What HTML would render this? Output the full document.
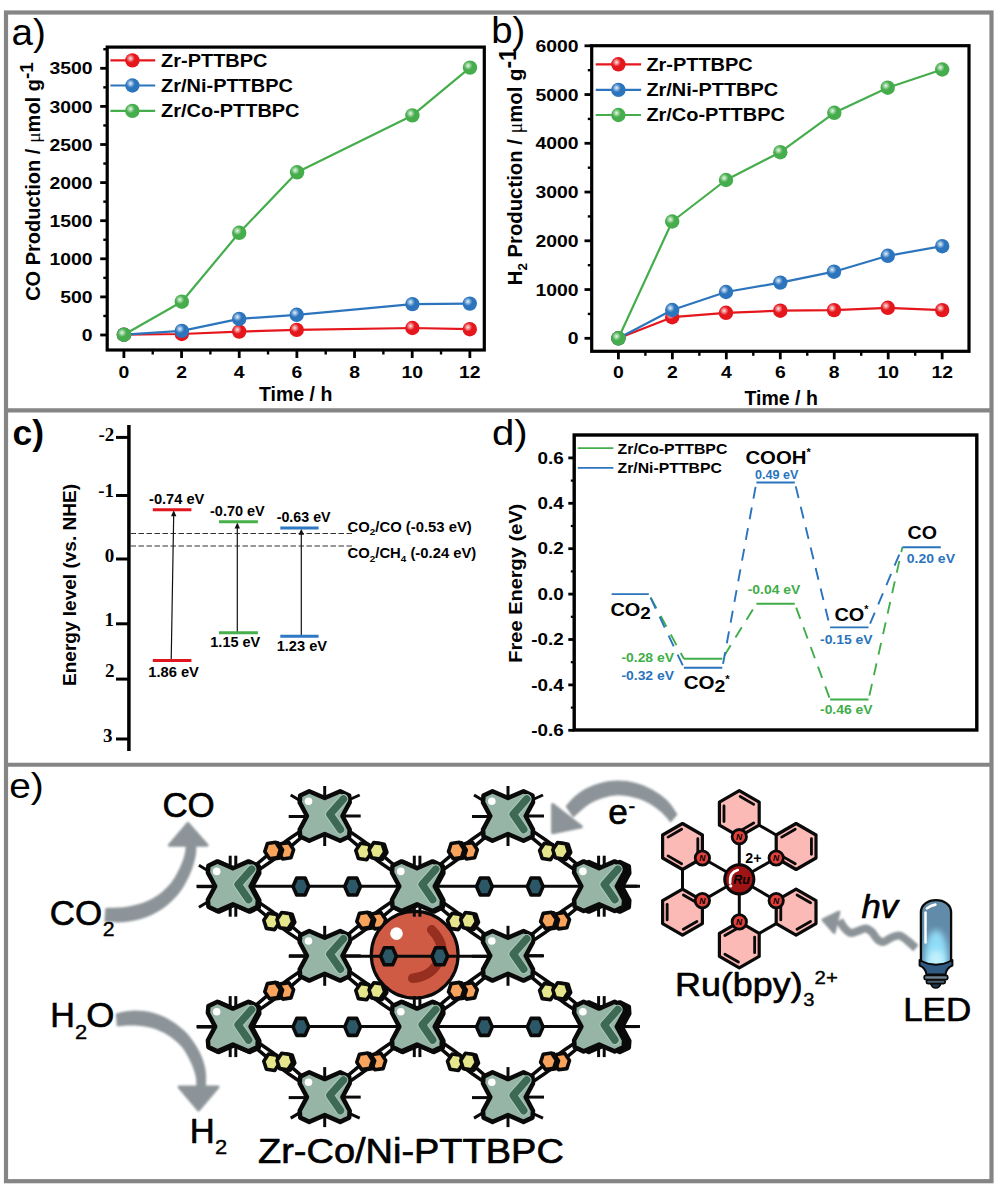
<!DOCTYPE html>
<html><head><meta charset="utf-8"><title>Figure</title>
<style>html,body{margin:0;padding:0;background:#fff}svg{display:block}</style></head>
<body><svg width="1003" height="1196" viewBox="0 0 1003 1196">
<rect width="1003" height="1196" fill="#fff"/>
<defs>
<radialGradient id="gR" cx="0.37" cy="0.36" r="0.30"><stop offset="0" stop-color="#fbe6e6"/><stop offset="0.45" stop-color="#f08a8d"/><stop offset="1" stop-color="#e5161c"/></radialGradient>
<radialGradient id="gB" cx="0.37" cy="0.36" r="0.30"><stop offset="0" stop-color="#e8f1fa"/><stop offset="0.45" stop-color="#8fb8de"/><stop offset="1" stop-color="#2c75bd"/></radialGradient>
<radialGradient id="gG" cx="0.37" cy="0.36" r="0.30"><stop offset="0" stop-color="#ecf7ec"/><stop offset="0.45" stop-color="#9fd5a3"/><stop offset="1" stop-color="#45ad4c"/></radialGradient>
<filter id="glow" x="-50%" y="-50%" width="200%" height="200%"><feGaussianBlur stdDeviation="3.2"/></filter>
<filter id="soft" x="-10%" y="-10%" width="120%" height="120%"><feGaussianBlur stdDeviation="0.9"/></filter>
<linearGradient id="led" x1="0" y1="0" x2="0" y2="1"><stop offset="0" stop-color="#5d86a6"/><stop offset="0.35" stop-color="#5a8fb4"/><stop offset="0.7" stop-color="#8fd6f0"/><stop offset="1" stop-color="#9adff5"/></linearGradient>
</defs>
<rect x="6" y="12.5" width="985.5" height="1168.7" fill="none" stroke="#858585" stroke-width="4.2"/>
<line x1="6.00" y1="410.40" x2="991.50" y2="410.40" stroke="#858585" stroke-width="4.4" />
<line x1="6.00" y1="764.80" x2="991.50" y2="764.80" stroke="#858585" stroke-width="4.0" />
<text transform="translate(11.50 45.20) scale(1.0600 1)" font-family='"Liberation Sans", Arial, Helvetica, sans-serif' font-size="36.5" font-weight="normal" text-anchor="start" fill="#000">a)</text>
<text transform="translate(491.20 43.40) scale(1.0500 1)" font-family='"Liberation Sans", Arial, Helvetica, sans-serif' font-size="36.5" font-weight="normal" text-anchor="start" fill="#000">b)</text>
<text transform="translate(12.60 444.50)" font-family='"Liberation Sans", Arial, Helvetica, sans-serif' font-size="35.5" font-weight="bold" text-anchor="start" fill="#000">c)</text>
<text transform="translate(491.90 444.70) scale(1.1200 1)" font-family='"Liberation Sans", Arial, Helvetica, sans-serif' font-size="35.8" font-weight="normal" text-anchor="start" fill="#000">d)</text>
<text transform="translate(9.20 798.40) scale(1.0850 1)" font-family='"Liberation Sans", Arial, Helvetica, sans-serif' font-size="35.8" font-weight="normal" text-anchor="start" fill="#000">e)</text>
<rect x="107.2" y="47.1" width="377.1" height="302.9" fill="none" stroke="#000" stroke-width="3.2"/>
<line x1="100.20" y1="335.00" x2="107.20" y2="335.00" stroke="#000" stroke-width="2.8" />
<text transform="translate(92.50 341.10) scale(1.1400 1)" font-family='"Liberation Sans", Arial, Helvetica, sans-serif' font-size="17" font-weight="bold" text-anchor="end" fill="#000">0</text>
<line x1="100.20" y1="296.90" x2="107.20" y2="296.90" stroke="#000" stroke-width="2.8" />
<text transform="translate(92.50 303.00) scale(1.1400 1)" font-family='"Liberation Sans", Arial, Helvetica, sans-serif' font-size="17" font-weight="bold" text-anchor="end" fill="#000">500</text>
<line x1="100.20" y1="258.80" x2="107.20" y2="258.80" stroke="#000" stroke-width="2.8" />
<text transform="translate(92.50 264.90) scale(1.1400 1)" font-family='"Liberation Sans", Arial, Helvetica, sans-serif' font-size="17" font-weight="bold" text-anchor="end" fill="#000">1000</text>
<line x1="100.20" y1="220.70" x2="107.20" y2="220.70" stroke="#000" stroke-width="2.8" />
<text transform="translate(92.50 226.80) scale(1.1400 1)" font-family='"Liberation Sans", Arial, Helvetica, sans-serif' font-size="17" font-weight="bold" text-anchor="end" fill="#000">1500</text>
<line x1="100.20" y1="182.60" x2="107.20" y2="182.60" stroke="#000" stroke-width="2.8" />
<text transform="translate(92.50 188.70) scale(1.1400 1)" font-family='"Liberation Sans", Arial, Helvetica, sans-serif' font-size="17" font-weight="bold" text-anchor="end" fill="#000">2000</text>
<line x1="100.20" y1="144.50" x2="107.20" y2="144.50" stroke="#000" stroke-width="2.8" />
<text transform="translate(92.50 150.60) scale(1.1400 1)" font-family='"Liberation Sans", Arial, Helvetica, sans-serif' font-size="17" font-weight="bold" text-anchor="end" fill="#000">2500</text>
<line x1="100.20" y1="106.40" x2="107.20" y2="106.40" stroke="#000" stroke-width="2.8" />
<text transform="translate(92.50 112.50) scale(1.1400 1)" font-family='"Liberation Sans", Arial, Helvetica, sans-serif' font-size="17" font-weight="bold" text-anchor="end" fill="#000">3000</text>
<line x1="100.20" y1="68.30" x2="107.20" y2="68.30" stroke="#000" stroke-width="2.8" />
<text transform="translate(92.50 74.40) scale(1.1400 1)" font-family='"Liberation Sans", Arial, Helvetica, sans-serif' font-size="17" font-weight="bold" text-anchor="end" fill="#000">3500</text>
<line x1="103.30" y1="315.95" x2="107.20" y2="315.95" stroke="#000" stroke-width="2.4" />
<line x1="103.30" y1="277.85" x2="107.20" y2="277.85" stroke="#000" stroke-width="2.4" />
<line x1="103.30" y1="239.75" x2="107.20" y2="239.75" stroke="#000" stroke-width="2.4" />
<line x1="103.30" y1="201.65" x2="107.20" y2="201.65" stroke="#000" stroke-width="2.4" />
<line x1="103.30" y1="163.55" x2="107.20" y2="163.55" stroke="#000" stroke-width="2.4" />
<line x1="103.30" y1="125.45" x2="107.20" y2="125.45" stroke="#000" stroke-width="2.4" />
<line x1="103.30" y1="87.35" x2="107.20" y2="87.35" stroke="#000" stroke-width="2.4" />
<line x1="103.30" y1="49.25" x2="107.20" y2="49.25" stroke="#000" stroke-width="2.4" />
<line x1="123.90" y1="350.00" x2="123.90" y2="358.00" stroke="#000" stroke-width="2.8" />
<text transform="translate(123.90 378.20) scale(1.1400 1)" font-family='"Liberation Sans", Arial, Helvetica, sans-serif' font-size="17" font-weight="bold" text-anchor="middle" fill="#000">0</text>
<line x1="181.56" y1="350.00" x2="181.56" y2="358.00" stroke="#000" stroke-width="2.8" />
<text transform="translate(181.56 378.20) scale(1.1400 1)" font-family='"Liberation Sans", Arial, Helvetica, sans-serif' font-size="17" font-weight="bold" text-anchor="middle" fill="#000">2</text>
<line x1="239.22" y1="350.00" x2="239.22" y2="358.00" stroke="#000" stroke-width="2.8" />
<text transform="translate(239.22 378.20) scale(1.1400 1)" font-family='"Liberation Sans", Arial, Helvetica, sans-serif' font-size="17" font-weight="bold" text-anchor="middle" fill="#000">4</text>
<line x1="296.88" y1="350.00" x2="296.88" y2="358.00" stroke="#000" stroke-width="2.8" />
<text transform="translate(296.88 378.20) scale(1.1400 1)" font-family='"Liberation Sans", Arial, Helvetica, sans-serif' font-size="17" font-weight="bold" text-anchor="middle" fill="#000">6</text>
<line x1="354.54" y1="350.00" x2="354.54" y2="358.00" stroke="#000" stroke-width="2.8" />
<text transform="translate(354.54 378.20) scale(1.1400 1)" font-family='"Liberation Sans", Arial, Helvetica, sans-serif' font-size="17" font-weight="bold" text-anchor="middle" fill="#000">8</text>
<line x1="412.20" y1="350.00" x2="412.20" y2="358.00" stroke="#000" stroke-width="2.8" />
<text transform="translate(412.20 378.20) scale(1.1400 1)" font-family='"Liberation Sans", Arial, Helvetica, sans-serif' font-size="17" font-weight="bold" text-anchor="middle" fill="#000">10</text>
<line x1="469.86" y1="350.00" x2="469.86" y2="358.00" stroke="#000" stroke-width="2.8" />
<text transform="translate(469.86 378.20) scale(1.1400 1)" font-family='"Liberation Sans", Arial, Helvetica, sans-serif' font-size="17" font-weight="bold" text-anchor="middle" fill="#000">12</text>
<line x1="152.73" y1="350.00" x2="152.73" y2="354.50" stroke="#000" stroke-width="2.4" />
<line x1="210.39" y1="350.00" x2="210.39" y2="354.50" stroke="#000" stroke-width="2.4" />
<line x1="268.05" y1="350.00" x2="268.05" y2="354.50" stroke="#000" stroke-width="2.4" />
<line x1="325.71" y1="350.00" x2="325.71" y2="354.50" stroke="#000" stroke-width="2.4" />
<line x1="383.37" y1="350.00" x2="383.37" y2="354.50" stroke="#000" stroke-width="2.4" />
<line x1="441.03" y1="350.00" x2="441.03" y2="354.50" stroke="#000" stroke-width="2.4" />
<text transform="translate(295.70 400.90)" font-family='"Liberation Sans", Arial, Helvetica, sans-serif' font-size="19.5" font-weight="bold" text-anchor="middle" fill="#000">Time / h</text>
<text transform="translate(40.20 181.50) scale(0.9900 1) rotate(-90)" font-family='"Liberation Sans", Arial, Helvetica, sans-serif' font-size="20.0" font-weight="bold" text-anchor="middle" fill="#000">CO Production / <tspan font-family='"Liberation Serif",serif' font-weight="normal">μ</tspan>mol g<tspan dy="-6.8" font-size="19">-1</tspan></text>
<polyline points="123.9,334.7 181.8,334.0 239.2,331.6 296.7,329.9 412.4,328.0 469.8,329.2" fill="none" stroke="#e5161c" stroke-width="2.2" stroke-linejoin="round"/>
<circle cx="123.90" cy="334.70" r="7.2" fill="url(#gR)"/>
<circle cx="181.80" cy="334.00" r="7.2" fill="url(#gR)"/>
<circle cx="239.20" cy="331.60" r="7.2" fill="url(#gR)"/>
<circle cx="296.70" cy="329.90" r="7.2" fill="url(#gR)"/>
<circle cx="412.40" cy="328.00" r="7.2" fill="url(#gR)"/>
<circle cx="469.80" cy="329.20" r="7.2" fill="url(#gR)"/>
<polyline points="123.9,334.7 181.8,330.9 239.2,318.9 296.7,314.8 412.4,304.1 469.8,303.6" fill="none" stroke="#2c75bd" stroke-width="2.2" stroke-linejoin="round"/>
<circle cx="123.90" cy="334.70" r="7.2" fill="url(#gB)"/>
<circle cx="181.80" cy="330.90" r="7.2" fill="url(#gB)"/>
<circle cx="239.20" cy="318.90" r="7.2" fill="url(#gB)"/>
<circle cx="296.70" cy="314.80" r="7.2" fill="url(#gB)"/>
<circle cx="412.40" cy="304.10" r="7.2" fill="url(#gB)"/>
<circle cx="469.80" cy="303.60" r="7.2" fill="url(#gB)"/>
<polyline points="123.9,334.7 181.8,301.7 239.2,232.8 297.1,172.3 412.4,115.4 470.0,67.6" fill="none" stroke="#45ad4c" stroke-width="2.2" stroke-linejoin="round"/>
<circle cx="123.90" cy="334.70" r="7.2" fill="url(#gG)"/>
<circle cx="181.80" cy="301.70" r="7.2" fill="url(#gG)"/>
<circle cx="239.20" cy="232.80" r="7.2" fill="url(#gG)"/>
<circle cx="297.10" cy="172.30" r="7.2" fill="url(#gG)"/>
<circle cx="412.40" cy="115.40" r="7.2" fill="url(#gG)"/>
<circle cx="470.00" cy="67.60" r="7.2" fill="url(#gG)"/>
<line x1="110.40" y1="60.40" x2="155.20" y2="60.40" stroke="#e5161c" stroke-width="2.2" />
<circle cx="132.40" cy="60.40" r="7.2" fill="url(#gR)"/>
<text transform="translate(161.10 66.70) scale(1.1400 1)" font-family='"Liberation Sans", Arial, Helvetica, sans-serif' font-size="17.5" font-weight="bold" text-anchor="start" fill="#000">Zr-PTTBPC</text>
<line x1="110.40" y1="85.50" x2="155.20" y2="85.50" stroke="#2c75bd" stroke-width="2.2" />
<circle cx="132.40" cy="85.50" r="7.2" fill="url(#gB)"/>
<text transform="translate(161.10 91.80) scale(1.1400 1)" font-family='"Liberation Sans", Arial, Helvetica, sans-serif' font-size="17.5" font-weight="bold" text-anchor="start" fill="#000">Zr/Ni-PTTBPC</text>
<line x1="110.40" y1="110.90" x2="155.20" y2="110.90" stroke="#45ad4c" stroke-width="2.2" />
<circle cx="132.40" cy="110.90" r="7.2" fill="url(#gG)"/>
<text transform="translate(161.10 117.20) scale(1.1400 1)" font-family='"Liberation Sans", Arial, Helvetica, sans-serif' font-size="17.5" font-weight="bold" text-anchor="start" fill="#000">Zr/Co-PTTBPC</text>
<rect x="591.7" y="45.7" width="377.29999999999995" height="305.6" fill="none" stroke="#000" stroke-width="3.2"/>
<line x1="584.50" y1="338.30" x2="591.70" y2="338.30" stroke="#000" stroke-width="2.8" />
<text transform="translate(578.50 344.40) scale(1.1400 1)" font-family='"Liberation Sans", Arial, Helvetica, sans-serif' font-size="17" font-weight="bold" text-anchor="end" fill="#000">0</text>
<line x1="584.50" y1="289.55" x2="591.70" y2="289.55" stroke="#000" stroke-width="2.8" />
<text transform="translate(578.50 295.65) scale(1.1400 1)" font-family='"Liberation Sans", Arial, Helvetica, sans-serif' font-size="17" font-weight="bold" text-anchor="end" fill="#000">1000</text>
<line x1="584.50" y1="240.80" x2="591.70" y2="240.80" stroke="#000" stroke-width="2.8" />
<text transform="translate(578.50 246.90) scale(1.1400 1)" font-family='"Liberation Sans", Arial, Helvetica, sans-serif' font-size="17" font-weight="bold" text-anchor="end" fill="#000">2000</text>
<line x1="584.50" y1="192.05" x2="591.70" y2="192.05" stroke="#000" stroke-width="2.8" />
<text transform="translate(578.50 198.15) scale(1.1400 1)" font-family='"Liberation Sans", Arial, Helvetica, sans-serif' font-size="17" font-weight="bold" text-anchor="end" fill="#000">3000</text>
<line x1="584.50" y1="143.30" x2="591.70" y2="143.30" stroke="#000" stroke-width="2.8" />
<text transform="translate(578.50 149.40) scale(1.1400 1)" font-family='"Liberation Sans", Arial, Helvetica, sans-serif' font-size="17" font-weight="bold" text-anchor="end" fill="#000">4000</text>
<line x1="584.50" y1="94.55" x2="591.70" y2="94.55" stroke="#000" stroke-width="2.8" />
<text transform="translate(578.50 100.65) scale(1.1400 1)" font-family='"Liberation Sans", Arial, Helvetica, sans-serif' font-size="17" font-weight="bold" text-anchor="end" fill="#000">5000</text>
<line x1="584.50" y1="45.80" x2="591.70" y2="45.80" stroke="#000" stroke-width="2.8" />
<text transform="translate(578.50 51.90) scale(1.1400 1)" font-family='"Liberation Sans", Arial, Helvetica, sans-serif' font-size="17" font-weight="bold" text-anchor="end" fill="#000">6000</text>
<line x1="587.80" y1="313.93" x2="591.70" y2="313.93" stroke="#000" stroke-width="2.4" />
<line x1="587.80" y1="265.18" x2="591.70" y2="265.18" stroke="#000" stroke-width="2.4" />
<line x1="587.80" y1="216.43" x2="591.70" y2="216.43" stroke="#000" stroke-width="2.4" />
<line x1="587.80" y1="167.68" x2="591.70" y2="167.68" stroke="#000" stroke-width="2.4" />
<line x1="587.80" y1="118.93" x2="591.70" y2="118.93" stroke="#000" stroke-width="2.4" />
<line x1="587.80" y1="70.18" x2="591.70" y2="70.18" stroke="#000" stroke-width="2.4" />
<line x1="618.40" y1="351.30" x2="618.40" y2="359.30" stroke="#000" stroke-width="2.8" />
<text transform="translate(618.40 378.20) scale(1.1400 1)" font-family='"Liberation Sans", Arial, Helvetica, sans-serif' font-size="17" font-weight="bold" text-anchor="middle" fill="#000">0</text>
<line x1="672.36" y1="351.30" x2="672.36" y2="359.30" stroke="#000" stroke-width="2.8" />
<text transform="translate(672.36 378.20) scale(1.1400 1)" font-family='"Liberation Sans", Arial, Helvetica, sans-serif' font-size="17" font-weight="bold" text-anchor="middle" fill="#000">2</text>
<line x1="726.32" y1="351.30" x2="726.32" y2="359.30" stroke="#000" stroke-width="2.8" />
<text transform="translate(726.32 378.20) scale(1.1400 1)" font-family='"Liberation Sans", Arial, Helvetica, sans-serif' font-size="17" font-weight="bold" text-anchor="middle" fill="#000">4</text>
<line x1="780.28" y1="351.30" x2="780.28" y2="359.30" stroke="#000" stroke-width="2.8" />
<text transform="translate(780.28 378.20) scale(1.1400 1)" font-family='"Liberation Sans", Arial, Helvetica, sans-serif' font-size="17" font-weight="bold" text-anchor="middle" fill="#000">6</text>
<line x1="834.24" y1="351.30" x2="834.24" y2="359.30" stroke="#000" stroke-width="2.8" />
<text transform="translate(834.24 378.20) scale(1.1400 1)" font-family='"Liberation Sans", Arial, Helvetica, sans-serif' font-size="17" font-weight="bold" text-anchor="middle" fill="#000">8</text>
<line x1="888.20" y1="351.30" x2="888.20" y2="359.30" stroke="#000" stroke-width="2.8" />
<text transform="translate(888.20 378.20) scale(1.1400 1)" font-family='"Liberation Sans", Arial, Helvetica, sans-serif' font-size="17" font-weight="bold" text-anchor="middle" fill="#000">10</text>
<line x1="942.16" y1="351.30" x2="942.16" y2="359.30" stroke="#000" stroke-width="2.8" />
<text transform="translate(942.16 378.20) scale(1.1400 1)" font-family='"Liberation Sans", Arial, Helvetica, sans-serif' font-size="17" font-weight="bold" text-anchor="middle" fill="#000">12</text>
<line x1="645.38" y1="351.30" x2="645.38" y2="355.80" stroke="#000" stroke-width="2.4" />
<line x1="699.34" y1="351.30" x2="699.34" y2="355.80" stroke="#000" stroke-width="2.4" />
<line x1="753.30" y1="351.30" x2="753.30" y2="355.80" stroke="#000" stroke-width="2.4" />
<line x1="807.26" y1="351.30" x2="807.26" y2="355.80" stroke="#000" stroke-width="2.4" />
<line x1="861.22" y1="351.30" x2="861.22" y2="355.80" stroke="#000" stroke-width="2.4" />
<line x1="915.18" y1="351.30" x2="915.18" y2="355.80" stroke="#000" stroke-width="2.4" />
<text transform="translate(781.20 404.50)" font-family='"Liberation Sans", Arial, Helvetica, sans-serif' font-size="19.5" font-weight="bold" text-anchor="middle" fill="#000">Time / h</text>
<text transform="translate(522.00 166.70) rotate(-90)" font-family='"Liberation Sans", Arial, Helvetica, sans-serif' font-size="20.3" font-weight="bold" text-anchor="middle" fill="#000">H<tspan dy="4.5" font-size="13.5">2</tspan><tspan dy="-4.5"> Production / </tspan><tspan font-family='"Liberation Serif",serif' font-weight="normal">μ</tspan>mol g<tspan dy="-6.1" font-size="23">-1</tspan></text>
<polyline points="618.4,338.3 672.2,317.2 726.0,312.8 780.3,310.7 834.0,310.1 887.8,307.8 942.2,310.1" fill="none" stroke="#e5161c" stroke-width="2.2" stroke-linejoin="round"/>
<circle cx="618.40" cy="338.30" r="7.2" fill="url(#gR)"/>
<circle cx="672.20" cy="317.20" r="7.2" fill="url(#gR)"/>
<circle cx="726.00" cy="312.80" r="7.2" fill="url(#gR)"/>
<circle cx="780.30" cy="310.70" r="7.2" fill="url(#gR)"/>
<circle cx="834.00" cy="310.10" r="7.2" fill="url(#gR)"/>
<circle cx="887.80" cy="307.80" r="7.2" fill="url(#gR)"/>
<circle cx="942.20" cy="310.10" r="7.2" fill="url(#gR)"/>
<polyline points="618.4,338.3 672.2,310.0 726.0,292.0 780.3,282.6 834.0,271.7 887.8,255.8 942.2,246.2" fill="none" stroke="#2c75bd" stroke-width="2.2" stroke-linejoin="round"/>
<circle cx="618.40" cy="338.30" r="7.2" fill="url(#gB)"/>
<circle cx="672.20" cy="310.00" r="7.2" fill="url(#gB)"/>
<circle cx="726.00" cy="292.00" r="7.2" fill="url(#gB)"/>
<circle cx="780.30" cy="282.60" r="7.2" fill="url(#gB)"/>
<circle cx="834.00" cy="271.70" r="7.2" fill="url(#gB)"/>
<circle cx="887.80" cy="255.80" r="7.2" fill="url(#gB)"/>
<circle cx="942.20" cy="246.20" r="7.2" fill="url(#gB)"/>
<polyline points="618.4,338.3 672.2,221.5 726.0,180.0 780.3,152.2 834.3,112.8 887.7,87.7 942.2,69.5" fill="none" stroke="#45ad4c" stroke-width="2.2" stroke-linejoin="round"/>
<circle cx="618.40" cy="338.30" r="7.2" fill="url(#gG)"/>
<circle cx="672.20" cy="221.50" r="7.2" fill="url(#gG)"/>
<circle cx="726.00" cy="180.00" r="7.2" fill="url(#gG)"/>
<circle cx="780.30" cy="152.20" r="7.2" fill="url(#gG)"/>
<circle cx="834.30" cy="112.80" r="7.2" fill="url(#gG)"/>
<circle cx="887.70" cy="87.70" r="7.2" fill="url(#gG)"/>
<circle cx="942.20" cy="69.50" r="7.2" fill="url(#gG)"/>
<line x1="595.70" y1="64.30" x2="641.10" y2="64.30" stroke="#e5161c" stroke-width="2.2" />
<circle cx="618.40" cy="64.30" r="7.2" fill="url(#gR)"/>
<text transform="translate(646.40 70.60) scale(1.1400 1)" font-family='"Liberation Sans", Arial, Helvetica, sans-serif' font-size="17.5" font-weight="bold" text-anchor="start" fill="#000">Zr-PTTBPC</text>
<line x1="595.70" y1="89.90" x2="641.10" y2="89.90" stroke="#2c75bd" stroke-width="2.2" />
<circle cx="618.40" cy="89.90" r="7.2" fill="url(#gB)"/>
<text transform="translate(646.40 96.20) scale(1.1400 1)" font-family='"Liberation Sans", Arial, Helvetica, sans-serif' font-size="17.5" font-weight="bold" text-anchor="start" fill="#000">Zr/Ni-PTTBPC</text>
<line x1="595.70" y1="115.00" x2="641.10" y2="115.00" stroke="#45ad4c" stroke-width="2.2" />
<circle cx="618.40" cy="115.00" r="7.2" fill="url(#gG)"/>
<text transform="translate(646.40 121.30) scale(1.1400 1)" font-family='"Liberation Sans", Arial, Helvetica, sans-serif' font-size="17.5" font-weight="bold" text-anchor="start" fill="#000">Zr/Co-PTTBPC</text>
<line x1="128.90" y1="425.00" x2="128.90" y2="751.00" stroke="#000" stroke-width="3.5" />
<line x1="116.00" y1="437.40" x2="129.00" y2="437.40" stroke="#000" stroke-width="3.0" />
<text transform="translate(114.30 440.50)" font-family='"Liberation Serif", "Times New Roman", serif' font-size="19" font-weight="bold" text-anchor="end" fill="#000">-2</text>
<line x1="116.00" y1="495.50" x2="129.00" y2="495.50" stroke="#000" stroke-width="3.0" />
<text transform="translate(114.00 497.30)" font-family='"Liberation Serif", "Times New Roman", serif' font-size="19" font-weight="bold" text-anchor="end" fill="#000">-1</text>
<line x1="116.00" y1="559.00" x2="129.00" y2="559.00" stroke="#000" stroke-width="3.0" />
<text transform="translate(114.30 561.50)" font-family='"Liberation Serif", "Times New Roman", serif' font-size="19" font-weight="bold" text-anchor="end" fill="#000">0</text>
<line x1="116.00" y1="623.80" x2="129.00" y2="623.80" stroke="#000" stroke-width="3.0" />
<text transform="translate(114.00 626.00)" font-family='"Liberation Serif", "Times New Roman", serif' font-size="19" font-weight="bold" text-anchor="end" fill="#000">1</text>
<line x1="116.00" y1="679.10" x2="129.00" y2="679.10" stroke="#000" stroke-width="3.0" />
<text transform="translate(114.50 677.20)" font-family='"Liberation Serif", "Times New Roman", serif' font-size="19" font-weight="bold" text-anchor="end" fill="#000">2</text>
<line x1="116.00" y1="739.00" x2="129.00" y2="739.00" stroke="#000" stroke-width="3.0" />
<text transform="translate(112.60 741.50)" font-family='"Liberation Serif", "Times New Roman", serif' font-size="19" font-weight="bold" text-anchor="end" fill="#000">3</text>
<text transform="translate(76.00 585.00) rotate(-90)" font-family='"Liberation Sans", Arial, Helvetica, sans-serif' font-size="19" font-weight="bold" text-anchor="middle" fill="#000" textLength="202.00" lengthAdjust="spacingAndGlyphs">Energy level (vs. NHE)</text>
<line x1="130.50" y1="533.50" x2="353.00" y2="533.50" stroke="#333" stroke-width="1.15" stroke-dasharray="5.5 2.5"/>
<line x1="130.50" y1="546.00" x2="353.00" y2="546.00" stroke="#333" stroke-width="1.15" stroke-dasharray="5.5 2.5"/>
<line x1="171.20" y1="660.00" x2="173.70" y2="514.20" stroke="#111" stroke-width="1.2" />
<path d="M173.7,510.2 l-2.7,6 l5.4,0 z" fill="#111"/>
<line x1="237.30" y1="632.00" x2="237.30" y2="526.40" stroke="#111" stroke-width="1.2" />
<path d="M237.3,522.4 l-2.7,6 l5.4,0 z" fill="#111"/>
<line x1="301.30" y1="636.00" x2="301.30" y2="532.80" stroke="#111" stroke-width="1.2" />
<path d="M301.3,528.8 l-2.7,6 l5.4,0 z" fill="#111"/>
<line x1="152.80" y1="509.70" x2="191.40" y2="509.70" stroke="#e0161c" stroke-width="3.0" />
<line x1="152.80" y1="660.50" x2="191.40" y2="660.50" stroke="#e0161c" stroke-width="3.0" />
<line x1="219.00" y1="521.80" x2="257.90" y2="521.80" stroke="#46b04a" stroke-width="3.0" />
<line x1="219.00" y1="632.80" x2="257.90" y2="632.80" stroke="#46b04a" stroke-width="3.0" />
<line x1="280.30" y1="528.00" x2="318.60" y2="528.00" stroke="#2f78c4" stroke-width="3.0" />
<line x1="280.30" y1="636.30" x2="318.60" y2="636.30" stroke="#2f78c4" stroke-width="3.0" />
<text transform="translate(149.00 504.20)" font-family='"Liberation Sans", Arial, Helvetica, sans-serif' font-size="15" font-weight="bold" text-anchor="start" fill="#000" textLength="55.40" lengthAdjust="spacingAndGlyphs">-0.74 eV</text>
<text transform="translate(148.30 677.20)" font-family='"Liberation Sans", Arial, Helvetica, sans-serif' font-size="15" font-weight="bold" text-anchor="start" fill="#000" textLength="50.60" lengthAdjust="spacingAndGlyphs">1.86 eV</text>
<text transform="translate(210.00 515.50)" font-family='"Liberation Sans", Arial, Helvetica, sans-serif' font-size="15" font-weight="bold" text-anchor="start" fill="#000" textLength="54.80" lengthAdjust="spacingAndGlyphs">-0.70 eV</text>
<text transform="translate(210.30 647.10)" font-family='"Liberation Sans", Arial, Helvetica, sans-serif' font-size="15" font-weight="bold" text-anchor="start" fill="#000" textLength="50.00" lengthAdjust="spacingAndGlyphs">1.15 eV</text>
<text transform="translate(276.70 521.70)" font-family='"Liberation Sans", Arial, Helvetica, sans-serif' font-size="15" font-weight="bold" text-anchor="start" fill="#000" textLength="53.90" lengthAdjust="spacingAndGlyphs">-0.63 eV</text>
<text transform="translate(276.70 651.00)" font-family='"Liberation Sans", Arial, Helvetica, sans-serif' font-size="15" font-weight="bold" text-anchor="start" fill="#000" textLength="50.30" lengthAdjust="spacingAndGlyphs">1.23 eV</text>
<text transform="translate(347.60 531.90)" font-family='"Liberation Sans", Arial, Helvetica, sans-serif' font-size="14.3" font-weight="bold" text-anchor="start" fill="#000" textLength="124.20" lengthAdjust="spacingAndGlyphs">CO<tspan dy="3.5" font-size="9.5">2</tspan><tspan dy="-3.5">/CO (-0.53 eV)</tspan></text>
<text transform="translate(347.60 558.20)" font-family='"Liberation Sans", Arial, Helvetica, sans-serif' font-size="14.3" font-weight="bold" text-anchor="start" fill="#000" textLength="128.70" lengthAdjust="spacingAndGlyphs">CO<tspan dy="3.5" font-size="9.5">2</tspan><tspan dy="-3.5">/CH</tspan><tspan dy="3.5" font-size="9.5">4</tspan><tspan dy="-3.5"> (-0.24 eV)</tspan></text>
<rect x="574.2" y="435.0" width="402.5999999999999" height="295.0" fill="none" stroke="#000" stroke-width="3.4"/>
<line x1="568.30" y1="457.90" x2="574.20" y2="457.90" stroke="#000" stroke-width="2.8" />
<text transform="translate(563.70 463.50) scale(1.2100 1)" font-family='"Liberation Sans", Arial, Helvetica, sans-serif' font-size="15.6" font-weight="bold" text-anchor="end" fill="#000">0.6</text>
<line x1="568.30" y1="503.30" x2="574.20" y2="503.30" stroke="#000" stroke-width="2.8" />
<text transform="translate(563.70 508.90) scale(1.2100 1)" font-family='"Liberation Sans", Arial, Helvetica, sans-serif' font-size="15.6" font-weight="bold" text-anchor="end" fill="#000">0.4</text>
<line x1="568.30" y1="548.70" x2="574.20" y2="548.70" stroke="#000" stroke-width="2.8" />
<text transform="translate(563.70 554.30) scale(1.2100 1)" font-family='"Liberation Sans", Arial, Helvetica, sans-serif' font-size="15.6" font-weight="bold" text-anchor="end" fill="#000">0.2</text>
<line x1="568.30" y1="594.10" x2="574.20" y2="594.10" stroke="#000" stroke-width="2.8" />
<text transform="translate(563.70 599.70) scale(1.2100 1)" font-family='"Liberation Sans", Arial, Helvetica, sans-serif' font-size="15.6" font-weight="bold" text-anchor="end" fill="#000">0.0</text>
<line x1="568.30" y1="639.50" x2="574.20" y2="639.50" stroke="#000" stroke-width="2.8" />
<text transform="translate(563.70 645.10) scale(1.2100 1)" font-family='"Liberation Sans", Arial, Helvetica, sans-serif' font-size="15.6" font-weight="bold" text-anchor="end" fill="#000">-0.2</text>
<line x1="568.30" y1="684.90" x2="574.20" y2="684.90" stroke="#000" stroke-width="2.8" />
<text transform="translate(563.70 690.50) scale(1.2100 1)" font-family='"Liberation Sans", Arial, Helvetica, sans-serif' font-size="15.6" font-weight="bold" text-anchor="end" fill="#000">-0.4</text>
<line x1="568.30" y1="730.30" x2="574.20" y2="730.30" stroke="#000" stroke-width="2.8" />
<text transform="translate(563.70 735.90) scale(1.2100 1)" font-family='"Liberation Sans", Arial, Helvetica, sans-serif' font-size="15.6" font-weight="bold" text-anchor="end" fill="#000">-0.6</text>
<line x1="570.80" y1="480.60" x2="574.20" y2="480.60" stroke="#000" stroke-width="2.2" />
<line x1="570.80" y1="526.00" x2="574.20" y2="526.00" stroke="#000" stroke-width="2.2" />
<line x1="570.80" y1="571.40" x2="574.20" y2="571.40" stroke="#000" stroke-width="2.2" />
<line x1="570.80" y1="616.80" x2="574.20" y2="616.80" stroke="#000" stroke-width="2.2" />
<line x1="570.80" y1="662.20" x2="574.20" y2="662.20" stroke="#000" stroke-width="2.2" />
<line x1="570.80" y1="707.60" x2="574.20" y2="707.60" stroke="#000" stroke-width="2.2" />
<text transform="translate(522.20 583.20) scale(0.9500 1) rotate(-90)" font-family='"Liberation Sans", Arial, Helvetica, sans-serif' font-size="20" font-weight="bold" text-anchor="middle" fill="#000">Free Energy (eV)</text>
<line x1="577.80" y1="448.20" x2="613.40" y2="448.20" stroke="#45ad4c" stroke-width="1.8" />
<line x1="577.80" y1="467.80" x2="613.40" y2="467.80" stroke="#2c75bd" stroke-width="1.8" />
<text transform="translate(617.60 453.50)" font-family='"Liberation Sans", Arial, Helvetica, sans-serif' font-size="14.6" font-weight="bold" text-anchor="start" fill="#000" textLength="109.70" lengthAdjust="spacingAndGlyphs">Zr/Co-PTTBPC</text>
<text transform="translate(617.60 473.10)" font-family='"Liberation Sans", Arial, Helvetica, sans-serif' font-size="14.6" font-weight="bold" text-anchor="start" fill="#000" textLength="104.20" lengthAdjust="spacingAndGlyphs">Zr/Ni-PTTBPC</text>
<line x1="648.80" y1="594.10" x2="683.90" y2="658.80" stroke="#3fae49" stroke-width="1.9" stroke-dasharray="12 9" stroke-dashoffset="-4"/>
<line x1="722.30" y1="658.80" x2="756.40" y2="603.80" stroke="#3fae49" stroke-width="1.9" stroke-dasharray="12 9" stroke-dashoffset="-4"/>
<line x1="794.80" y1="603.80" x2="830.10" y2="699.50" stroke="#3fae49" stroke-width="1.9" stroke-dasharray="12 9" stroke-dashoffset="-4"/>
<line x1="868.50" y1="699.50" x2="902.40" y2="547.20" stroke="#3fae49" stroke-width="1.9" stroke-dasharray="12 9" stroke-dashoffset="-4"/>
<line x1="648.80" y1="594.10" x2="683.90" y2="667.80" stroke="#2a74bd" stroke-width="1.9" stroke-dasharray="12 9" stroke-dashoffset="-4"/>
<line x1="722.30" y1="667.80" x2="756.40" y2="482.50" stroke="#2a74bd" stroke-width="1.9" stroke-dasharray="12 9" stroke-dashoffset="-4"/>
<line x1="794.80" y1="482.50" x2="830.10" y2="627.40" stroke="#2a74bd" stroke-width="1.9" stroke-dasharray="12 9" stroke-dashoffset="-4"/>
<line x1="868.50" y1="627.40" x2="902.40" y2="547.20" stroke="#2a74bd" stroke-width="1.9" stroke-dasharray="12 9" stroke-dashoffset="-4"/>
<line x1="683.90" y1="658.80" x2="722.30" y2="658.80" stroke="#3fae49" stroke-width="1.9" />
<line x1="756.40" y1="603.80" x2="794.80" y2="603.80" stroke="#3fae49" stroke-width="1.9" />
<line x1="830.10" y1="699.50" x2="868.50" y2="699.50" stroke="#3fae49" stroke-width="1.9" />
<line x1="611.60" y1="594.10" x2="648.80" y2="594.10" stroke="#2a74bd" stroke-width="1.9" />
<line x1="683.90" y1="667.80" x2="722.30" y2="667.80" stroke="#2a74bd" stroke-width="1.9" />
<line x1="756.40" y1="482.50" x2="794.80" y2="482.50" stroke="#2a74bd" stroke-width="1.9" />
<line x1="830.10" y1="627.40" x2="868.50" y2="627.40" stroke="#2a74bd" stroke-width="1.9" />
<line x1="902.40" y1="547.20" x2="940.80" y2="547.20" stroke="#2a74bd" stroke-width="1.9" />
<text transform="translate(610.40 615.60)" font-family='"Liberation Sans", Arial, Helvetica, sans-serif' font-size="18" font-weight="bold" text-anchor="start" fill="#000" textLength="40.40" lengthAdjust="spacingAndGlyphs">CO<tspan dy="3" font-size="17">2</tspan></text>
<text transform="translate(683.70 689.10)" font-family='"Liberation Sans", Arial, Helvetica, sans-serif' font-size="18" font-weight="bold" text-anchor="start" fill="#000" textLength="46.10" lengthAdjust="spacingAndGlyphs">CO<tspan dy="3" font-size="17">2</tspan><tspan dy="-9" font-size="10">*</tspan></text>
<text transform="translate(745.40 464.10)" font-family='"Liberation Sans", Arial, Helvetica, sans-serif' font-size="18.5" font-weight="bold" text-anchor="start" fill="#000" textLength="65.30" lengthAdjust="spacingAndGlyphs">COOH<tspan dy="-8" font-size="10">*</tspan></text>
<text transform="translate(834.40 621.30)" font-family='"Liberation Sans", Arial, Helvetica, sans-serif' font-size="18.5" font-weight="bold" text-anchor="start" fill="#000" textLength="34.10" lengthAdjust="spacingAndGlyphs">CO<tspan dy="-8" font-size="10">*</tspan></text>
<text transform="translate(907.60 539.30)" font-family='"Liberation Sans", Arial, Helvetica, sans-serif' font-size="19" font-weight="bold" text-anchor="start" fill="#000" textLength="29.40" lengthAdjust="spacingAndGlyphs">CO</text>
<text transform="translate(754.90 479.20)" font-family='"Liberation Sans", Arial, Helvetica, sans-serif' font-size="12.2" font-weight="bold" text-anchor="start" fill="#2a74bd" textLength="43.40" lengthAdjust="spacingAndGlyphs">0.49 eV</text>
<text transform="translate(747.70 593.70)" font-family='"Liberation Sans", Arial, Helvetica, sans-serif' font-size="13" font-weight="bold" text-anchor="start" fill="#3fae49" textLength="52.60" lengthAdjust="spacingAndGlyphs">-0.04 eV</text>
<text transform="translate(906.70 563.00)" font-family='"Liberation Sans", Arial, Helvetica, sans-serif' font-size="13" font-weight="bold" text-anchor="start" fill="#2a74bd" textLength="48.30" lengthAdjust="spacingAndGlyphs">0.20 eV</text>
<text transform="translate(820.00 643.80)" font-family='"Liberation Sans", Arial, Helvetica, sans-serif' font-size="13" font-weight="bold" text-anchor="start" fill="#2a74bd" textLength="52.60" lengthAdjust="spacingAndGlyphs">-0.15 eV</text>
<text transform="translate(820.00 713.80)" font-family='"Liberation Sans", Arial, Helvetica, sans-serif' font-size="13" font-weight="bold" text-anchor="start" fill="#3fae49" textLength="52.60" lengthAdjust="spacingAndGlyphs">-0.46 eV</text>
<text transform="translate(621.40 661.50)" font-family='"Liberation Sans", Arial, Helvetica, sans-serif' font-size="13" font-weight="bold" text-anchor="start" fill="#3fae49" textLength="52.60" lengthAdjust="spacingAndGlyphs">-0.28 eV</text>
<text transform="translate(621.40 680.40)" font-family='"Liberation Sans", Arial, Helvetica, sans-serif' font-size="13" font-weight="bold" text-anchor="start" fill="#2a74bd" textLength="52.60" lengthAdjust="spacingAndGlyphs">-0.32 eV</text>
<g filter="url(#soft)">
<path d="M104.4,922.1 C107.9,922.1 118.2,922.9 125.2,922.1 C132.2,921.3 139.5,919.8 146.1,917.3 C152.7,914.8 159.3,911.1 165.0,906.9 C170.7,902.6 175.9,897.5 180.2,891.8 C184.5,886.1 188.0,878.8 190.6,872.8 C193.2,866.8 194.8,860.3 195.7,855.8 C196.6,851.2 196.2,847.2 196.3,845.5 L185.9,845.5 C185.6,847.2 185.4,851.9 184.3,855.8 C183.2,859.7 181.5,864.4 179.2,869.0 C176.9,873.6 174.3,878.8 170.7,883.2 C167.1,887.6 162.1,892.3 157.4,895.6 C152.7,898.9 147.7,901.2 142.3,903.1 C136.9,905.0 131.3,906.1 125.2,906.9 C119.0,907.7 108.7,907.7 105.4,907.9 Z" fill="#8c9499"/>
<path d="M169.4,845.3 L207.1,845.3 L187.9,823.4 Z" fill="#8c9499" stroke="#8c9499" stroke-width="3" stroke-linejoin="round"/>
<path d="M115.8,1013.5 C118.8,1013.0 127.4,1010.6 133.7,1010.5 C140.0,1010.4 147.4,1011.2 153.7,1012.9 C160.0,1014.6 165.9,1017.4 171.6,1020.9 C177.2,1024.4 182.9,1028.8 187.6,1033.9 C192.2,1039.1 196.5,1045.8 199.5,1051.8 C202.5,1057.8 204.4,1064.0 205.5,1069.8 C206.6,1075.6 205.8,1083.7 205.9,1086.5 L196.5,1086.5 C196.3,1084.7 196.5,1079.8 195.5,1075.7 C194.5,1071.6 192.8,1066.6 190.5,1061.8 C188.2,1057.0 185.4,1051.3 181.6,1046.8 C177.8,1042.3 172.6,1038.1 167.6,1034.9 C162.6,1031.8 157.3,1029.5 151.7,1027.9 C146.0,1026.3 139.5,1025.8 133.7,1025.5 C127.9,1025.2 119.6,1026.2 116.8,1026.3 Z" fill="#8c9499"/>
<path d="M179.1,1087.0 L218.0,1087.0 L198.5,1110.0 Z" fill="#8c9499" stroke="#8c9499" stroke-width="3" stroke-linejoin="round"/>
<path d="M677.5,814.4 C675.8,812.1 671.5,804.6 667.3,800.5 C663.0,796.4 657.4,792.5 652.0,789.5 C646.6,786.5 640.8,784.2 635.1,782.7 C629.5,781.2 623.8,780.5 618.1,780.5 C612.5,780.5 606.6,781.4 601.2,782.7 C595.8,784.1 590.4,786.2 585.9,788.6 C581.4,791.0 577.5,794.1 574.1,797.1 C570.7,800.1 567.0,804.9 565.6,806.4 L573.2,817.5 C574.5,816.4 577.8,813.1 580.8,810.7 C583.8,808.3 587.3,805.2 591.0,803.1 C594.7,801.0 598.7,799.3 602.9,798.0 C607.1,796.7 611.6,795.5 616.4,795.4 C621.2,795.2 626.6,796.0 631.7,797.1 C636.8,798.2 642.1,799.8 646.9,802.2 C651.7,804.6 656.5,808.1 660.5,811.5 C664.5,814.9 669.0,820.7 670.7,822.5 Z" fill="#8c9499"/>
<path d="M552.6,804.5 L552.6,832.8 L581.4,826.7 Z" fill="#8c9499" stroke="#8c9499" stroke-width="3" stroke-linejoin="round"/>
<path d="M915.9,948.2 C914.5,947.0 910.5,943.1 907.8,941.0 C905.1,938.9 902.4,936.2 899.7,935.6 C897.0,935.0 894.4,936.4 891.7,937.4 C889.0,938.4 886.0,941.6 883.6,941.9 C881.2,942.2 879.2,940.9 877.3,939.2 C875.3,937.6 873.8,933.8 871.9,932.0 C870.0,930.2 868.0,928.6 865.6,928.5 C863.2,928.4 860.1,930.4 857.6,931.1 C855.1,931.8 852.6,933.5 850.4,932.9 C848.1,932.3 845.9,929.7 844.1,927.6 C842.3,925.5 840.4,921.6 839.6,920.4" fill="none" stroke="#8c9499" stroke-width="8" stroke-linecap="butt" stroke-linejoin="round"/>
<path d="M823.0,919.8 L839.0,912.0 L834.2,932.4 Z" fill="#8c9499" stroke="#8c9499" stroke-width="3" stroke-linejoin="round"/>
</g>
<line x1="196.50" y1="886.20" x2="640.00" y2="886.20" stroke="#0a0a0a" stroke-width="3.0" />
<line x1="196.50" y1="1026.60" x2="640.00" y2="1026.60" stroke="#0a0a0a" stroke-width="3.0" />
<path d="M324.7,816.0 Q283.4,857.1 232.9,886.2" fill="none" stroke="#0a0a0a" stroke-width="3.5"/>
<path d="M324.7,816.0 Q274.2,845.1 232.9,886.2" fill="none" stroke="#0a0a0a" stroke-width="3.5"/>
<path d="M324.7,816.0 Q375.4,845.1 417.0,886.2" fill="none" stroke="#0a0a0a" stroke-width="3.5"/>
<path d="M324.7,816.0 Q366.3,857.1 417.0,886.2" fill="none" stroke="#0a0a0a" stroke-width="3.5"/>
<path d="M508.0,816.0 Q467.1,857.0 417.0,886.2" fill="none" stroke="#0a0a0a" stroke-width="3.5"/>
<path d="M508.0,816.0 Q457.9,845.2 417.0,886.2" fill="none" stroke="#0a0a0a" stroke-width="3.5"/>
<path d="M508.0,816.0 Q559.2,845.1 601.3,886.2" fill="none" stroke="#0a0a0a" stroke-width="3.5"/>
<path d="M508.0,816.0 Q550.1,857.1 601.3,886.2" fill="none" stroke="#0a0a0a" stroke-width="3.5"/>
<path d="M232.9,886.2 Q283.3,915.0 324.7,955.8" fill="none" stroke="#0a0a0a" stroke-width="3.5"/>
<path d="M232.9,886.2 Q274.3,927.0 324.7,955.8" fill="none" stroke="#0a0a0a" stroke-width="3.5"/>
<path d="M417.0,886.2 Q375.4,927.0 324.7,955.8" fill="none" stroke="#0a0a0a" stroke-width="3.5"/>
<path d="M417.0,886.2 Q366.3,915.0 324.7,955.8" fill="none" stroke="#0a0a0a" stroke-width="3.5"/>
<path d="M417.0,886.2 Q467.1,915.0 508.0,955.8" fill="none" stroke="#0a0a0a" stroke-width="3.5"/>
<path d="M417.0,886.2 Q457.9,927.0 508.0,955.8" fill="none" stroke="#0a0a0a" stroke-width="3.5"/>
<path d="M601.3,886.2 Q559.1,927.0 508.0,955.8" fill="none" stroke="#0a0a0a" stroke-width="3.5"/>
<path d="M601.3,886.2 Q550.2,915.0 508.0,955.8" fill="none" stroke="#0a0a0a" stroke-width="3.5"/>
<path d="M324.7,955.8 Q283.4,997.1 232.9,1026.6" fill="none" stroke="#0a0a0a" stroke-width="3.5"/>
<path d="M324.7,955.8 Q274.2,985.3 232.9,1026.6" fill="none" stroke="#0a0a0a" stroke-width="3.5"/>
<path d="M324.7,955.8 Q375.4,985.2 417.0,1026.6" fill="none" stroke="#0a0a0a" stroke-width="3.5"/>
<path d="M324.7,955.8 Q366.3,997.2 417.0,1026.6" fill="none" stroke="#0a0a0a" stroke-width="3.5"/>
<path d="M508.0,955.8 Q467.1,997.1 417.0,1026.6" fill="none" stroke="#0a0a0a" stroke-width="3.5"/>
<path d="M508.0,955.8 Q457.9,985.3 417.0,1026.6" fill="none" stroke="#0a0a0a" stroke-width="3.5"/>
<path d="M508.0,955.8 Q559.2,985.2 601.3,1026.6" fill="none" stroke="#0a0a0a" stroke-width="3.5"/>
<path d="M508.0,955.8 Q550.1,997.2 601.3,1026.6" fill="none" stroke="#0a0a0a" stroke-width="3.5"/>
<path d="M232.9,1026.6 Q283.4,1055.9 324.7,1097.1" fill="none" stroke="#0a0a0a" stroke-width="3.5"/>
<path d="M232.9,1026.6 Q274.2,1067.8 324.7,1097.1" fill="none" stroke="#0a0a0a" stroke-width="3.5"/>
<path d="M417.0,1026.6 Q375.4,1067.8 324.7,1097.1" fill="none" stroke="#0a0a0a" stroke-width="3.5"/>
<path d="M417.0,1026.6 Q366.3,1055.9 324.7,1097.1" fill="none" stroke="#0a0a0a" stroke-width="3.5"/>
<path d="M417.0,1026.6 Q467.1,1055.9 508.0,1097.1" fill="none" stroke="#0a0a0a" stroke-width="3.5"/>
<path d="M417.0,1026.6 Q457.9,1067.8 508.0,1097.1" fill="none" stroke="#0a0a0a" stroke-width="3.5"/>
<path d="M601.3,1026.6 Q559.2,1067.8 508.0,1097.1" fill="none" stroke="#0a0a0a" stroke-width="3.5"/>
<path d="M601.3,1026.6 Q550.1,1055.9 508.0,1097.1" fill="none" stroke="#0a0a0a" stroke-width="3.5"/>
<path d="M278.0,851.9 L280.6,843.8 L288.9,842.6 L293.6,849.7 L291.0,857.8 L282.7,859.0 Z" fill="#f9a45c" stroke="#0a0a0a" stroke-width="3.6" stroke-linejoin="round"/>
<path d="M267.0,852.1 L269.6,844.0 L277.9,842.8 L282.6,849.9 L280.0,858.0 L271.7,859.2 Z" fill="#0a0a0a" stroke="#0a0a0a" stroke-width="3.6" stroke-linejoin="round"/>
<path d="M264.8,851.6 L267.4,843.5 L275.7,842.3 L280.4,849.4 L277.8,857.5 L269.5,858.7 Z" fill="#f9a45c" stroke="#0a0a0a" stroke-width="3.6" stroke-linejoin="round"/>
<path d="M355.8,850.4 L360.6,843.3 L368.9,844.5 L371.5,852.6 L366.7,859.7 L358.4,858.5 Z" fill="#e6e68c" stroke="#0a0a0a" stroke-width="3.6" stroke-linejoin="round"/>
<path d="M371.2,850.2 L376.0,843.1 L384.3,844.3 L386.9,852.4 L382.1,859.5 L373.8,858.3 Z" fill="#0a0a0a" stroke="#0a0a0a" stroke-width="3.6" stroke-linejoin="round"/>
<path d="M369.0,849.7 L373.8,842.6 L382.1,843.8 L384.7,851.9 L379.9,859.0 L371.6,857.8 Z" fill="#e6e68c" stroke="#0a0a0a" stroke-width="3.6" stroke-linejoin="round"/>
<path d="M461.7,851.9 L464.3,843.8 L472.6,842.6 L477.3,849.7 L474.7,857.8 L466.4,859.0 Z" fill="#f9a45c" stroke="#0a0a0a" stroke-width="3.6" stroke-linejoin="round"/>
<path d="M450.7,852.1 L453.3,844.0 L461.6,842.8 L466.3,849.9 L463.7,858.0 L455.4,859.2 Z" fill="#0a0a0a" stroke="#0a0a0a" stroke-width="3.6" stroke-linejoin="round"/>
<path d="M448.5,851.6 L451.1,843.5 L459.4,842.3 L464.1,849.4 L461.5,857.5 L453.2,858.7 Z" fill="#f9a45c" stroke="#0a0a0a" stroke-width="3.6" stroke-linejoin="round"/>
<path d="M539.6,850.4 L544.4,843.3 L552.7,844.5 L555.3,852.6 L550.5,859.7 L542.2,858.5 Z" fill="#e6e68c" stroke="#0a0a0a" stroke-width="3.6" stroke-linejoin="round"/>
<path d="M555.0,850.2 L559.8,843.1 L568.1,844.3 L570.7,852.4 L565.9,859.5 L557.6,858.3 Z" fill="#0a0a0a" stroke="#0a0a0a" stroke-width="3.6" stroke-linejoin="round"/>
<path d="M552.8,849.7 L557.6,842.6 L565.9,843.8 L568.5,851.9 L563.7,859.0 L555.4,857.8 Z" fill="#e6e68c" stroke="#0a0a0a" stroke-width="3.6" stroke-linejoin="round"/>
<path d="M263.8,920.3 L268.5,913.2 L276.8,914.4 L279.4,922.5 L274.7,929.6 L266.4,928.4 Z" fill="#e6e68c" stroke="#0a0a0a" stroke-width="3.6" stroke-linejoin="round"/>
<path d="M279.2,920.1 L283.9,913.0 L292.2,914.2 L294.8,922.3 L290.1,929.4 L281.8,928.2 Z" fill="#0a0a0a" stroke="#0a0a0a" stroke-width="3.6" stroke-linejoin="round"/>
<path d="M277.0,919.6 L281.7,912.5 L290.0,913.7 L292.6,921.8 L287.9,928.9 L279.6,927.7 Z" fill="#e6e68c" stroke="#0a0a0a" stroke-width="3.6" stroke-linejoin="round"/>
<path d="M370.0,921.8 L372.6,913.7 L380.9,912.5 L385.7,919.6 L383.1,927.7 L374.8,928.9 Z" fill="#f9a45c" stroke="#0a0a0a" stroke-width="3.6" stroke-linejoin="round"/>
<path d="M359.0,922.0 L361.6,913.9 L369.9,912.7 L374.7,919.8 L372.1,927.9 L363.8,929.1 Z" fill="#0a0a0a" stroke="#0a0a0a" stroke-width="3.6" stroke-linejoin="round"/>
<path d="M356.8,921.5 L359.4,913.4 L367.7,912.2 L372.5,919.3 L369.9,927.4 L361.6,928.6 Z" fill="#f9a45c" stroke="#0a0a0a" stroke-width="3.6" stroke-linejoin="round"/>
<path d="M447.5,920.3 L452.2,913.2 L460.5,914.4 L463.1,922.5 L458.4,929.6 L450.1,928.4 Z" fill="#e6e68c" stroke="#0a0a0a" stroke-width="3.6" stroke-linejoin="round"/>
<path d="M462.9,920.1 L467.6,913.0 L475.9,914.2 L478.5,922.3 L473.8,929.4 L465.5,928.2 Z" fill="#0a0a0a" stroke="#0a0a0a" stroke-width="3.6" stroke-linejoin="round"/>
<path d="M460.7,919.6 L465.4,912.5 L473.7,913.7 L476.3,921.8 L471.6,928.9 L463.3,927.7 Z" fill="#e6e68c" stroke="#0a0a0a" stroke-width="3.6" stroke-linejoin="round"/>
<path d="M553.8,921.8 L556.4,913.7 L564.7,912.5 L569.5,919.6 L566.9,927.7 L558.6,928.9 Z" fill="#f9a45c" stroke="#0a0a0a" stroke-width="3.6" stroke-linejoin="round"/>
<path d="M542.8,922.0 L545.4,913.9 L553.7,912.7 L558.5,919.8 L555.9,927.9 L547.6,929.1 Z" fill="#0a0a0a" stroke="#0a0a0a" stroke-width="3.6" stroke-linejoin="round"/>
<path d="M540.6,921.5 L543.2,913.4 L551.5,912.2 L556.3,919.3 L553.7,927.4 L545.4,928.6 Z" fill="#f9a45c" stroke="#0a0a0a" stroke-width="3.6" stroke-linejoin="round"/>
<path d="M278.0,992.0 L280.6,983.9 L288.9,982.7 L293.6,989.8 L291.0,997.9 L282.7,999.1 Z" fill="#f9a45c" stroke="#0a0a0a" stroke-width="3.6" stroke-linejoin="round"/>
<path d="M267.0,992.2 L269.6,984.1 L277.9,982.9 L282.6,990.0 L280.0,998.1 L271.7,999.3 Z" fill="#0a0a0a" stroke="#0a0a0a" stroke-width="3.6" stroke-linejoin="round"/>
<path d="M264.8,991.7 L267.4,983.6 L275.7,982.4 L280.4,989.5 L277.8,997.6 L269.5,998.8 Z" fill="#f9a45c" stroke="#0a0a0a" stroke-width="3.6" stroke-linejoin="round"/>
<path d="M355.8,990.5 L360.6,983.4 L368.9,984.6 L371.5,992.7 L366.7,999.8 L358.4,998.6 Z" fill="#e6e68c" stroke="#0a0a0a" stroke-width="3.6" stroke-linejoin="round"/>
<path d="M371.2,990.3 L376.0,983.2 L384.3,984.4 L386.9,992.5 L382.1,999.6 L373.8,998.4 Z" fill="#0a0a0a" stroke="#0a0a0a" stroke-width="3.6" stroke-linejoin="round"/>
<path d="M369.0,989.8 L373.8,982.7 L382.1,983.9 L384.7,992.0 L379.9,999.1 L371.6,997.9 Z" fill="#e6e68c" stroke="#0a0a0a" stroke-width="3.6" stroke-linejoin="round"/>
<path d="M461.7,992.0 L464.3,983.9 L472.6,982.7 L477.3,989.8 L474.7,997.9 L466.4,999.1 Z" fill="#f9a45c" stroke="#0a0a0a" stroke-width="3.6" stroke-linejoin="round"/>
<path d="M450.7,992.2 L453.3,984.1 L461.6,982.9 L466.3,990.0 L463.7,998.1 L455.4,999.3 Z" fill="#0a0a0a" stroke="#0a0a0a" stroke-width="3.6" stroke-linejoin="round"/>
<path d="M448.5,991.7 L451.1,983.6 L459.4,982.4 L464.1,989.5 L461.5,997.6 L453.2,998.8 Z" fill="#f9a45c" stroke="#0a0a0a" stroke-width="3.6" stroke-linejoin="round"/>
<path d="M539.6,990.5 L544.4,983.4 L552.7,984.6 L555.3,992.7 L550.5,999.8 L542.2,998.6 Z" fill="#e6e68c" stroke="#0a0a0a" stroke-width="3.6" stroke-linejoin="round"/>
<path d="M555.0,990.3 L559.8,983.2 L568.1,984.4 L570.7,992.5 L565.9,999.6 L557.6,998.4 Z" fill="#0a0a0a" stroke="#0a0a0a" stroke-width="3.6" stroke-linejoin="round"/>
<path d="M552.8,989.8 L557.6,982.7 L565.9,983.9 L568.5,992.0 L563.7,999.1 L555.4,997.9 Z" fill="#e6e68c" stroke="#0a0a0a" stroke-width="3.6" stroke-linejoin="round"/>
<path d="M263.8,1061.2 L268.5,1054.0 L276.8,1055.2 L279.4,1063.3 L274.7,1070.5 L266.4,1069.3 Z" fill="#e6e68c" stroke="#0a0a0a" stroke-width="3.6" stroke-linejoin="round"/>
<path d="M279.2,1061.0 L283.9,1053.8 L292.2,1055.0 L294.8,1063.1 L290.1,1070.3 L281.8,1069.1 Z" fill="#0a0a0a" stroke="#0a0a0a" stroke-width="3.6" stroke-linejoin="round"/>
<path d="M277.0,1060.5 L281.7,1053.3 L290.0,1054.5 L292.6,1062.6 L287.9,1069.8 L279.6,1068.6 Z" fill="#e6e68c" stroke="#0a0a0a" stroke-width="3.6" stroke-linejoin="round"/>
<path d="M370.0,1062.6 L372.6,1054.5 L380.9,1053.3 L385.7,1060.5 L383.1,1068.6 L374.8,1069.8 Z" fill="#f9a45c" stroke="#0a0a0a" stroke-width="3.6" stroke-linejoin="round"/>
<path d="M359.0,1062.8 L361.6,1054.7 L369.9,1053.5 L374.7,1060.7 L372.1,1068.8 L363.8,1070.0 Z" fill="#0a0a0a" stroke="#0a0a0a" stroke-width="3.6" stroke-linejoin="round"/>
<path d="M356.8,1062.3 L359.4,1054.2 L367.7,1053.0 L372.5,1060.2 L369.9,1068.3 L361.6,1069.5 Z" fill="#f9a45c" stroke="#0a0a0a" stroke-width="3.6" stroke-linejoin="round"/>
<path d="M447.5,1061.2 L452.2,1054.0 L460.5,1055.2 L463.1,1063.3 L458.4,1070.5 L450.1,1069.3 Z" fill="#e6e68c" stroke="#0a0a0a" stroke-width="3.6" stroke-linejoin="round"/>
<path d="M462.9,1061.0 L467.6,1053.8 L475.9,1055.0 L478.5,1063.1 L473.8,1070.3 L465.5,1069.1 Z" fill="#0a0a0a" stroke="#0a0a0a" stroke-width="3.6" stroke-linejoin="round"/>
<path d="M460.7,1060.5 L465.4,1053.3 L473.7,1054.5 L476.3,1062.6 L471.6,1069.8 L463.3,1068.6 Z" fill="#e6e68c" stroke="#0a0a0a" stroke-width="3.6" stroke-linejoin="round"/>
<path d="M553.8,1062.6 L556.4,1054.5 L564.7,1053.3 L569.5,1060.5 L566.9,1068.6 L558.6,1069.8 Z" fill="#f9a45c" stroke="#0a0a0a" stroke-width="3.6" stroke-linejoin="round"/>
<path d="M542.8,1062.8 L545.4,1054.7 L553.7,1053.5 L558.5,1060.7 L555.9,1068.8 L547.6,1070.0 Z" fill="#0a0a0a" stroke="#0a0a0a" stroke-width="3.6" stroke-linejoin="round"/>
<path d="M540.6,1062.3 L543.2,1054.2 L551.5,1053.0 L556.3,1060.2 L553.7,1068.3 L545.4,1069.5 Z" fill="#f9a45c" stroke="#0a0a0a" stroke-width="3.6" stroke-linejoin="round"/>
<circle cx="414.7" cy="954.8" r="43.4" fill="#cf5b44" stroke="#0a0a0a" stroke-width="3.2"/>
<path d="M431.7,929.8 Q448.7,946.8 436.7,964.8 Q428.7,976.8 412.7,978.3" fill="none" stroke="#962f20" stroke-width="9.5" stroke-linecap="round"/>
<circle cx="396.5" cy="933.6" r="6.3" fill="#fff"/>
<line x1="324.70" y1="956.20" x2="508.00" y2="956.20" stroke="#0a0a0a" stroke-width="3.0" />
<line x1="289.00" y1="955.80" x2="324.70" y2="955.80" stroke="#0a0a0a" stroke-width="3.0" />
<line x1="508.00" y1="955.80" x2="543.00" y2="955.80" stroke="#0a0a0a" stroke-width="3.0" />
<path d="M293.0,886.5 L296.7,878.0 L305.1,878.0 L308.8,886.5 L305.1,895.0 L296.7,895.0 Z" fill="#2c5766" stroke="#0a0a0a" stroke-width="3.6" stroke-linejoin="round"/>
<path d="M344.7,886.5 L348.4,878.0 L356.8,878.0 L360.5,886.5 L356.8,895.0 L348.4,895.0 Z" fill="#2c5766" stroke="#0a0a0a" stroke-width="3.6" stroke-linejoin="round"/>
<path d="M476.5,886.5 L480.2,878.0 L488.6,878.0 L492.3,886.5 L488.6,895.0 L480.2,895.0 Z" fill="#2c5766" stroke="#0a0a0a" stroke-width="3.6" stroke-linejoin="round"/>
<path d="M527.3,886.5 L531.0,878.0 L539.4,878.0 L543.1,886.5 L539.4,895.0 L531.0,895.0 Z" fill="#2c5766" stroke="#0a0a0a" stroke-width="3.6" stroke-linejoin="round"/>
<path d="M293.0,1026.9 L296.7,1018.4 L305.1,1018.4 L308.8,1026.9 L305.1,1035.4 L296.7,1035.4 Z" fill="#2c5766" stroke="#0a0a0a" stroke-width="3.6" stroke-linejoin="round"/>
<path d="M344.7,1026.9 L348.4,1018.4 L356.8,1018.4 L360.5,1026.9 L356.8,1035.4 L348.4,1035.4 Z" fill="#2c5766" stroke="#0a0a0a" stroke-width="3.6" stroke-linejoin="round"/>
<path d="M476.5,1026.9 L480.2,1018.4 L488.6,1018.4 L492.3,1026.9 L488.6,1035.4 L480.2,1035.4 Z" fill="#2c5766" stroke="#0a0a0a" stroke-width="3.6" stroke-linejoin="round"/>
<path d="M527.3,1026.9 L531.0,1018.4 L539.4,1018.4 L543.1,1026.9 L539.4,1035.4 L531.0,1035.4 Z" fill="#2c5766" stroke="#0a0a0a" stroke-width="3.6" stroke-linejoin="round"/>
<path d="M380.6,956.3 L384.3,947.8 L392.7,947.8 L396.4,956.3 L392.7,964.8 L384.3,964.8 Z" fill="#2c5766" stroke="#0a0a0a" stroke-width="3.6" stroke-linejoin="round"/>
<path d="M431.9,956.3 L435.6,947.8 L444.0,947.8 L447.7,956.3 L444.0,964.8 L435.6,964.8 Z" fill="#2c5766" stroke="#0a0a0a" stroke-width="3.6" stroke-linejoin="round"/>
<line x1="324.70" y1="786.00" x2="324.70" y2="799.00" stroke="#0a0a0a" stroke-width="3.0" />
<line x1="324.70" y1="833.00" x2="324.70" y2="846.00" stroke="#0a0a0a" stroke-width="3.0" />
<line x1="288.70" y1="816.50" x2="307.70" y2="816.50" stroke="#0a0a0a" stroke-width="3.0" />
<line x1="341.70" y1="816.00" x2="360.70" y2="816.00" stroke="#0a0a0a" stroke-width="3.0" />
<line x1="290.70" y1="795.00" x2="300.70" y2="801.00" stroke="#0a0a0a" stroke-width="3.0" />
<line x1="349.70" y1="799.50" x2="359.70" y2="795.00" stroke="#0a0a0a" stroke-width="3.0" />
<polygon points="300.2,795.5 309.2,791.2 324.7,798.0 340.2,791.2 349.2,795.5 349.7,802.4 342.4,816.0 349.7,829.6 349.2,836.5 340.2,840.8 324.7,834.0 309.2,840.8 300.2,836.5 299.7,829.6 307.0,816.0 299.7,802.4" fill="#96b5a6" stroke="#0a0a0a" stroke-width="4.5" stroke-linejoin="round"/>
<polyline points="343.4,799.0 329.9,814.2 340.4,829.4" fill="none" stroke="#a9c8b8" stroke-width="9.8" stroke-linecap="round" stroke-linejoin="round"/>
<polyline points="343.4,799.0 329.9,814.2 340.4,829.4" fill="none" stroke="#3e6a55" stroke-width="7.6" stroke-linecap="round" stroke-linejoin="round"/>
<circle cx="308.5" cy="801.2" r="3.8" fill="#fff"/>
<line x1="508.00" y1="786.00" x2="508.00" y2="799.00" stroke="#0a0a0a" stroke-width="3.0" />
<line x1="508.00" y1="833.00" x2="508.00" y2="846.00" stroke="#0a0a0a" stroke-width="3.0" />
<line x1="472.00" y1="816.50" x2="491.00" y2="816.50" stroke="#0a0a0a" stroke-width="3.0" />
<line x1="525.00" y1="816.00" x2="544.00" y2="816.00" stroke="#0a0a0a" stroke-width="3.0" />
<line x1="474.00" y1="795.00" x2="484.00" y2="801.00" stroke="#0a0a0a" stroke-width="3.0" />
<line x1="533.00" y1="799.50" x2="543.00" y2="795.00" stroke="#0a0a0a" stroke-width="3.0" />
<polygon points="483.5,795.5 492.5,791.2 508.0,798.0 523.5,791.2 532.5,795.5 533.0,802.4 525.7,816.0 533.0,829.6 532.5,836.5 523.5,840.8 508.0,834.0 492.5,840.8 483.5,836.5 483.0,829.6 490.3,816.0 483.0,802.4" fill="#96b5a6" stroke="#0a0a0a" stroke-width="4.5" stroke-linejoin="round"/>
<polyline points="526.7,799.0 513.2,814.2 523.7,829.4" fill="none" stroke="#a9c8b8" stroke-width="9.8" stroke-linecap="round" stroke-linejoin="round"/>
<polyline points="526.7,799.0 513.2,814.2 523.7,829.4" fill="none" stroke="#3e6a55" stroke-width="7.6" stroke-linecap="round" stroke-linejoin="round"/>
<circle cx="491.8" cy="801.2" r="3.8" fill="#fff"/>
<line x1="230.20" y1="855.70" x2="230.20" y2="866.20" stroke="#0a0a0a" stroke-width="3.0" />
<line x1="235.80" y1="855.70" x2="235.80" y2="866.20" stroke="#0a0a0a" stroke-width="3.0" />
<line x1="230.20" y1="906.20" x2="230.20" y2="916.70" stroke="#0a0a0a" stroke-width="3.0" />
<line x1="235.80" y1="906.20" x2="235.80" y2="916.70" stroke="#0a0a0a" stroke-width="3.0" />
<line x1="196.90" y1="886.70" x2="215.90" y2="886.70" stroke="#0a0a0a" stroke-width="3.0" />
<line x1="198.90" y1="865.20" x2="208.90" y2="871.20" stroke="#0a0a0a" stroke-width="3.0" />
<line x1="198.90" y1="907.20" x2="208.90" y2="901.20" stroke="#0a0a0a" stroke-width="3.0" />
<polygon points="209.8,866.3 218.8,862.0 234.3,868.8 249.8,862.0 258.8,866.3 259.3,873.2 252.0,886.8 259.3,900.4 258.8,907.3 249.8,911.6 234.3,904.8 218.8,911.6 209.8,907.3 209.3,900.4 216.6,886.8 209.3,873.2" fill="#0a0a0a" stroke="#0a0a0a" stroke-width="4.5" stroke-linejoin="round"/>
<polygon points="208.4,865.7 217.4,861.4 232.9,868.2 248.4,861.4 257.4,865.7 257.9,872.6 250.6,886.2 257.9,899.8 257.4,906.7 248.4,911.0 232.9,904.2 217.4,911.0 208.4,906.7 207.9,899.8 215.2,886.2 207.9,872.6" fill="#96b5a6" stroke="#0a0a0a" stroke-width="4.5" stroke-linejoin="round"/>
<polyline points="251.6,869.2 238.1,884.4 248.6,899.6" fill="none" stroke="#a9c8b8" stroke-width="9.8" stroke-linecap="round" stroke-linejoin="round"/>
<polyline points="251.6,869.2 238.1,884.4 248.6,899.6" fill="none" stroke="#3e6a55" stroke-width="7.6" stroke-linecap="round" stroke-linejoin="round"/>
<circle cx="216.7" cy="871.4" r="3.8" fill="#fff"/>
<line x1="414.30" y1="855.70" x2="414.30" y2="866.20" stroke="#0a0a0a" stroke-width="3.0" />
<line x1="419.90" y1="855.70" x2="419.90" y2="866.20" stroke="#0a0a0a" stroke-width="3.0" />
<line x1="414.30" y1="906.20" x2="414.30" y2="916.70" stroke="#0a0a0a" stroke-width="3.0" />
<line x1="419.90" y1="906.20" x2="419.90" y2="916.70" stroke="#0a0a0a" stroke-width="3.0" />
<polygon points="393.9,866.3 402.9,862.0 418.4,868.8 433.9,862.0 442.9,866.3 443.4,873.2 436.1,886.8 443.4,900.4 442.9,907.3 433.9,911.6 418.4,904.8 402.9,911.6 393.9,907.3 393.4,900.4 400.7,886.8 393.4,873.2" fill="#0a0a0a" stroke="#0a0a0a" stroke-width="4.5" stroke-linejoin="round"/>
<polygon points="392.5,865.7 401.5,861.4 417.0,868.2 432.5,861.4 441.5,865.7 442.0,872.6 434.7,886.2 442.0,899.8 441.5,906.7 432.5,911.0 417.0,904.2 401.5,911.0 392.5,906.7 392.0,899.8 399.3,886.2 392.0,872.6" fill="#96b5a6" stroke="#0a0a0a" stroke-width="4.5" stroke-linejoin="round"/>
<polyline points="435.7,869.2 422.2,884.4 432.7,899.6" fill="none" stroke="#a9c8b8" stroke-width="9.8" stroke-linecap="round" stroke-linejoin="round"/>
<polyline points="435.7,869.2 422.2,884.4 432.7,899.6" fill="none" stroke="#3e6a55" stroke-width="7.6" stroke-linecap="round" stroke-linejoin="round"/>
<circle cx="400.8" cy="871.4" r="3.8" fill="#fff"/>
<line x1="598.60" y1="855.70" x2="598.60" y2="866.20" stroke="#0a0a0a" stroke-width="3.0" />
<line x1="604.20" y1="855.70" x2="604.20" y2="866.20" stroke="#0a0a0a" stroke-width="3.0" />
<line x1="598.60" y1="906.20" x2="598.60" y2="916.70" stroke="#0a0a0a" stroke-width="3.0" />
<line x1="604.20" y1="906.20" x2="604.20" y2="916.70" stroke="#0a0a0a" stroke-width="3.0" />
<line x1="618.30" y1="886.20" x2="637.30" y2="886.20" stroke="#0a0a0a" stroke-width="3.0" />
<polygon points="579.8,866.3 588.8,862.0 604.3,868.8 619.8,862.0 628.8,866.3 629.3,873.2 622.0,886.8 629.3,900.4 628.8,907.3 619.8,911.6 604.3,904.8 588.8,911.6 579.8,907.3 579.3,900.4 586.6,886.8 579.3,873.2" fill="#0a0a0a" stroke="#0a0a0a" stroke-width="4.5" stroke-linejoin="round"/>
<polygon points="574.6,865.7 583.6,861.4 599.1,868.2 614.6,861.4 623.6,865.7 624.1,872.6 616.8,886.2 624.1,899.8 623.6,906.7 614.6,911.0 599.1,904.2 583.6,911.0 574.6,906.7 574.1,899.8 581.4,886.2 574.1,872.6" fill="#96b5a6" stroke="#0a0a0a" stroke-width="4.5" stroke-linejoin="round"/>
<polyline points="617.8,869.2 604.3,884.4 614.8,899.6" fill="none" stroke="#a9c8b8" stroke-width="9.8" stroke-linecap="round" stroke-linejoin="round"/>
<polyline points="617.8,869.2 604.3,884.4 614.8,899.6" fill="none" stroke="#3e6a55" stroke-width="7.6" stroke-linecap="round" stroke-linejoin="round"/>
<circle cx="582.9" cy="871.4" r="3.8" fill="#fff"/>
<line x1="324.70" y1="925.80" x2="324.70" y2="938.80" stroke="#0a0a0a" stroke-width="3.0" />
<line x1="324.70" y1="972.80" x2="324.70" y2="985.80" stroke="#0a0a0a" stroke-width="3.0" />
<line x1="288.70" y1="956.30" x2="307.70" y2="956.30" stroke="#0a0a0a" stroke-width="3.0" />
<line x1="341.70" y1="955.80" x2="360.70" y2="955.80" stroke="#0a0a0a" stroke-width="3.0" />
<polygon points="300.2,935.3 309.2,931.0 324.7,937.8 340.2,931.0 349.2,935.3 349.7,942.2 342.4,955.8 349.7,969.4 349.2,976.3 340.2,980.6 324.7,973.8 309.2,980.6 300.2,976.3 299.7,969.4 307.0,955.8 299.7,942.2" fill="#96b5a6" stroke="#0a0a0a" stroke-width="4.5" stroke-linejoin="round"/>
<polyline points="343.4,938.8 329.9,954.0 340.4,969.2" fill="none" stroke="#a9c8b8" stroke-width="9.8" stroke-linecap="round" stroke-linejoin="round"/>
<polyline points="343.4,938.8 329.9,954.0 340.4,969.2" fill="none" stroke="#3e6a55" stroke-width="7.6" stroke-linecap="round" stroke-linejoin="round"/>
<circle cx="308.5" cy="941.0" r="3.8" fill="#fff"/>
<line x1="508.00" y1="925.80" x2="508.00" y2="938.80" stroke="#0a0a0a" stroke-width="3.0" />
<line x1="508.00" y1="972.80" x2="508.00" y2="985.80" stroke="#0a0a0a" stroke-width="3.0" />
<line x1="472.00" y1="956.30" x2="491.00" y2="956.30" stroke="#0a0a0a" stroke-width="3.0" />
<line x1="525.00" y1="955.80" x2="544.00" y2="955.80" stroke="#0a0a0a" stroke-width="3.0" />
<polygon points="483.5,935.3 492.5,931.0 508.0,937.8 523.5,931.0 532.5,935.3 533.0,942.2 525.7,955.8 533.0,969.4 532.5,976.3 523.5,980.6 508.0,973.8 492.5,980.6 483.5,976.3 483.0,969.4 490.3,955.8 483.0,942.2" fill="#96b5a6" stroke="#0a0a0a" stroke-width="4.5" stroke-linejoin="round"/>
<polyline points="526.7,938.8 513.2,954.0 523.7,969.2" fill="none" stroke="#a9c8b8" stroke-width="9.8" stroke-linecap="round" stroke-linejoin="round"/>
<polyline points="526.7,938.8 513.2,954.0 523.7,969.2" fill="none" stroke="#3e6a55" stroke-width="7.6" stroke-linecap="round" stroke-linejoin="round"/>
<circle cx="491.8" cy="941.0" r="3.8" fill="#fff"/>
<line x1="230.20" y1="996.10" x2="230.20" y2="1006.60" stroke="#0a0a0a" stroke-width="3.0" />
<line x1="235.80" y1="996.10" x2="235.80" y2="1006.60" stroke="#0a0a0a" stroke-width="3.0" />
<line x1="230.20" y1="1046.60" x2="230.20" y2="1057.10" stroke="#0a0a0a" stroke-width="3.0" />
<line x1="235.80" y1="1046.60" x2="235.80" y2="1057.10" stroke="#0a0a0a" stroke-width="3.0" />
<line x1="196.90" y1="1027.10" x2="215.90" y2="1027.10" stroke="#0a0a0a" stroke-width="3.0" />
<polygon points="209.8,1006.7 218.8,1002.4 234.3,1009.2 249.8,1002.4 258.8,1006.7 259.3,1013.6 252.0,1027.2 259.3,1040.8 258.8,1047.7 249.8,1052.0 234.3,1045.2 218.8,1052.0 209.8,1047.7 209.3,1040.8 216.6,1027.2 209.3,1013.6" fill="#0a0a0a" stroke="#0a0a0a" stroke-width="4.5" stroke-linejoin="round"/>
<polygon points="208.4,1006.1 217.4,1001.8 232.9,1008.6 248.4,1001.8 257.4,1006.1 257.9,1013.0 250.6,1026.6 257.9,1040.2 257.4,1047.1 248.4,1051.4 232.9,1044.6 217.4,1051.4 208.4,1047.1 207.9,1040.2 215.2,1026.6 207.9,1013.0" fill="#96b5a6" stroke="#0a0a0a" stroke-width="4.5" stroke-linejoin="round"/>
<polyline points="251.6,1009.6 238.1,1024.8 248.6,1040.0" fill="none" stroke="#a9c8b8" stroke-width="9.8" stroke-linecap="round" stroke-linejoin="round"/>
<polyline points="251.6,1009.6 238.1,1024.8 248.6,1040.0" fill="none" stroke="#3e6a55" stroke-width="7.6" stroke-linecap="round" stroke-linejoin="round"/>
<circle cx="216.7" cy="1011.8" r="3.8" fill="#fff"/>
<line x1="414.30" y1="996.10" x2="414.30" y2="1006.60" stroke="#0a0a0a" stroke-width="3.0" />
<line x1="419.90" y1="996.10" x2="419.90" y2="1006.60" stroke="#0a0a0a" stroke-width="3.0" />
<line x1="414.30" y1="1046.60" x2="414.30" y2="1057.10" stroke="#0a0a0a" stroke-width="3.0" />
<line x1="419.90" y1="1046.60" x2="419.90" y2="1057.10" stroke="#0a0a0a" stroke-width="3.0" />
<polygon points="393.9,1006.7 402.9,1002.4 418.4,1009.2 433.9,1002.4 442.9,1006.7 443.4,1013.6 436.1,1027.2 443.4,1040.8 442.9,1047.7 433.9,1052.0 418.4,1045.2 402.9,1052.0 393.9,1047.7 393.4,1040.8 400.7,1027.2 393.4,1013.6" fill="#0a0a0a" stroke="#0a0a0a" stroke-width="4.5" stroke-linejoin="round"/>
<polygon points="392.5,1006.1 401.5,1001.8 417.0,1008.6 432.5,1001.8 441.5,1006.1 442.0,1013.0 434.7,1026.6 442.0,1040.2 441.5,1047.1 432.5,1051.4 417.0,1044.6 401.5,1051.4 392.5,1047.1 392.0,1040.2 399.3,1026.6 392.0,1013.0" fill="#96b5a6" stroke="#0a0a0a" stroke-width="4.5" stroke-linejoin="round"/>
<polyline points="435.7,1009.6 422.2,1024.8 432.7,1040.0" fill="none" stroke="#a9c8b8" stroke-width="9.8" stroke-linecap="round" stroke-linejoin="round"/>
<polyline points="435.7,1009.6 422.2,1024.8 432.7,1040.0" fill="none" stroke="#3e6a55" stroke-width="7.6" stroke-linecap="round" stroke-linejoin="round"/>
<circle cx="400.8" cy="1011.8" r="3.8" fill="#fff"/>
<line x1="598.60" y1="996.10" x2="598.60" y2="1006.60" stroke="#0a0a0a" stroke-width="3.0" />
<line x1="604.20" y1="996.10" x2="604.20" y2="1006.60" stroke="#0a0a0a" stroke-width="3.0" />
<line x1="598.60" y1="1046.60" x2="598.60" y2="1057.10" stroke="#0a0a0a" stroke-width="3.0" />
<line x1="604.20" y1="1046.60" x2="604.20" y2="1057.10" stroke="#0a0a0a" stroke-width="3.0" />
<line x1="618.30" y1="1026.60" x2="637.30" y2="1026.60" stroke="#0a0a0a" stroke-width="3.0" />
<polygon points="579.8,1006.7 588.8,1002.4 604.3,1009.2 619.8,1002.4 628.8,1006.7 629.3,1013.6 622.0,1027.2 629.3,1040.8 628.8,1047.7 619.8,1052.0 604.3,1045.2 588.8,1052.0 579.8,1047.7 579.3,1040.8 586.6,1027.2 579.3,1013.6" fill="#0a0a0a" stroke="#0a0a0a" stroke-width="4.5" stroke-linejoin="round"/>
<polygon points="574.6,1006.1 583.6,1001.8 599.1,1008.6 614.6,1001.8 623.6,1006.1 624.1,1013.0 616.8,1026.6 624.1,1040.2 623.6,1047.1 614.6,1051.4 599.1,1044.6 583.6,1051.4 574.6,1047.1 574.1,1040.2 581.4,1026.6 574.1,1013.0" fill="#96b5a6" stroke="#0a0a0a" stroke-width="4.5" stroke-linejoin="round"/>
<polyline points="617.8,1009.6 604.3,1024.8 614.8,1040.0" fill="none" stroke="#a9c8b8" stroke-width="9.8" stroke-linecap="round" stroke-linejoin="round"/>
<polyline points="617.8,1009.6 604.3,1024.8 614.8,1040.0" fill="none" stroke="#3e6a55" stroke-width="7.6" stroke-linecap="round" stroke-linejoin="round"/>
<circle cx="582.9" cy="1011.8" r="3.8" fill="#fff"/>
<line x1="324.70" y1="1067.10" x2="324.70" y2="1080.10" stroke="#0a0a0a" stroke-width="3.0" />
<line x1="324.70" y1="1114.10" x2="324.70" y2="1127.10" stroke="#0a0a0a" stroke-width="3.0" />
<line x1="288.70" y1="1097.60" x2="307.70" y2="1097.60" stroke="#0a0a0a" stroke-width="3.0" />
<line x1="341.70" y1="1097.10" x2="360.70" y2="1097.10" stroke="#0a0a0a" stroke-width="3.0" />
<line x1="290.70" y1="1118.10" x2="300.70" y2="1112.10" stroke="#0a0a0a" stroke-width="3.0" />
<line x1="349.70" y1="1113.60" x2="359.70" y2="1118.10" stroke="#0a0a0a" stroke-width="3.0" />
<polygon points="300.2,1076.6 309.2,1072.3 324.7,1079.1 340.2,1072.3 349.2,1076.6 349.7,1083.5 342.4,1097.1 349.7,1110.7 349.2,1117.6 340.2,1121.9 324.7,1115.1 309.2,1121.9 300.2,1117.6 299.7,1110.7 307.0,1097.1 299.7,1083.5" fill="#96b5a6" stroke="#0a0a0a" stroke-width="4.5" stroke-linejoin="round"/>
<polyline points="343.4,1080.1 329.9,1095.3 340.4,1110.5" fill="none" stroke="#a9c8b8" stroke-width="9.8" stroke-linecap="round" stroke-linejoin="round"/>
<polyline points="343.4,1080.1 329.9,1095.3 340.4,1110.5" fill="none" stroke="#3e6a55" stroke-width="7.6" stroke-linecap="round" stroke-linejoin="round"/>
<circle cx="308.5" cy="1082.3" r="3.8" fill="#fff"/>
<line x1="508.00" y1="1067.10" x2="508.00" y2="1080.10" stroke="#0a0a0a" stroke-width="3.0" />
<line x1="508.00" y1="1114.10" x2="508.00" y2="1127.10" stroke="#0a0a0a" stroke-width="3.0" />
<line x1="472.00" y1="1097.60" x2="491.00" y2="1097.60" stroke="#0a0a0a" stroke-width="3.0" />
<line x1="525.00" y1="1097.10" x2="544.00" y2="1097.10" stroke="#0a0a0a" stroke-width="3.0" />
<line x1="474.00" y1="1118.10" x2="484.00" y2="1112.10" stroke="#0a0a0a" stroke-width="3.0" />
<line x1="533.00" y1="1113.60" x2="543.00" y2="1118.10" stroke="#0a0a0a" stroke-width="3.0" />
<polygon points="483.5,1076.6 492.5,1072.3 508.0,1079.1 523.5,1072.3 532.5,1076.6 533.0,1083.5 525.7,1097.1 533.0,1110.7 532.5,1117.6 523.5,1121.9 508.0,1115.1 492.5,1121.9 483.5,1117.6 483.0,1110.7 490.3,1097.1 483.0,1083.5" fill="#96b5a6" stroke="#0a0a0a" stroke-width="4.5" stroke-linejoin="round"/>
<polyline points="526.7,1080.1 513.2,1095.3 523.7,1110.5" fill="none" stroke="#a9c8b8" stroke-width="9.8" stroke-linecap="round" stroke-linejoin="round"/>
<polyline points="526.7,1080.1 513.2,1095.3 523.7,1110.5" fill="none" stroke="#3e6a55" stroke-width="7.6" stroke-linecap="round" stroke-linejoin="round"/>
<circle cx="491.8" cy="1082.3" r="3.8" fill="#fff"/>
<line x1="759.22" y1="825.20" x2="776.19" y2="835.00" stroke="#0a0a0a" stroke-width="3.0" />
<line x1="776.19" y1="923.60" x2="759.22" y2="933.40" stroke="#0a0a0a" stroke-width="3.0" />
<line x1="682.49" y1="889.10" x2="682.49" y2="869.50" stroke="#0a0a0a" stroke-width="3.0" />
<polygon points="739.3,790.7 759.2,802.2 759.2,825.2 739.3,836.7 719.4,825.2 719.4,802.2" fill="#fbbab6" stroke="#0a0a0a" stroke-width="3.2" stroke-linejoin="round"/>
<line x1="740.19" y1="796.52" x2="753.73" y2="804.34" stroke="#0a0a0a" stroke-width="2.8" stroke-linecap="round"/>
<line x1="753.73" y1="823.06" x2="740.19" y2="830.88" stroke="#0a0a0a" stroke-width="2.8" stroke-linecap="round"/>
<line x1="723.98" y1="821.52" x2="723.98" y2="805.88" stroke="#0a0a0a" stroke-width="2.8" stroke-linecap="round"/>
<polygon points="796.1,823.5 816.0,835.0 816.0,858.0 796.1,869.5 776.2,858.0 776.2,835.0" fill="#fbbab6" stroke="#0a0a0a" stroke-width="3.2" stroke-linejoin="round"/>
<line x1="781.68" y1="837.14" x2="795.22" y2="829.32" stroke="#0a0a0a" stroke-width="2.8" stroke-linecap="round"/>
<line x1="811.43" y1="838.68" x2="811.43" y2="854.32" stroke="#0a0a0a" stroke-width="2.8" stroke-linecap="round"/>
<line x1="795.22" y1="863.68" x2="781.68" y2="855.86" stroke="#0a0a0a" stroke-width="2.8" stroke-linecap="round"/>
<polygon points="796.1,889.1 816.0,900.6 816.0,923.6 796.1,935.1 776.2,923.6 776.2,900.6" fill="#fbbab6" stroke="#0a0a0a" stroke-width="3.2" stroke-linejoin="round"/>
<line x1="797.00" y1="894.92" x2="810.54" y2="902.74" stroke="#0a0a0a" stroke-width="2.8" stroke-linecap="round"/>
<line x1="810.54" y1="921.46" x2="797.00" y2="929.28" stroke="#0a0a0a" stroke-width="2.8" stroke-linecap="round"/>
<line x1="780.79" y1="919.92" x2="780.79" y2="904.28" stroke="#0a0a0a" stroke-width="2.8" stroke-linecap="round"/>
<polygon points="739.3,921.9 759.2,933.4 759.2,956.4 739.3,967.9 719.4,956.4 719.4,933.4" fill="#fbbab6" stroke="#0a0a0a" stroke-width="3.2" stroke-linejoin="round"/>
<line x1="724.87" y1="935.54" x2="738.41" y2="927.72" stroke="#0a0a0a" stroke-width="2.8" stroke-linecap="round"/>
<line x1="754.62" y1="937.08" x2="754.62" y2="952.72" stroke="#0a0a0a" stroke-width="2.8" stroke-linecap="round"/>
<line x1="738.41" y1="962.08" x2="724.87" y2="954.26" stroke="#0a0a0a" stroke-width="2.8" stroke-linecap="round"/>
<polygon points="682.5,889.1 702.4,900.6 702.4,923.6 682.5,935.1 662.6,923.6 662.6,900.6" fill="#fbbab6" stroke="#0a0a0a" stroke-width="3.2" stroke-linejoin="round"/>
<line x1="683.38" y1="894.92" x2="696.92" y2="902.74" stroke="#0a0a0a" stroke-width="2.8" stroke-linecap="round"/>
<line x1="696.92" y1="921.46" x2="683.38" y2="929.28" stroke="#0a0a0a" stroke-width="2.8" stroke-linecap="round"/>
<line x1="667.17" y1="919.92" x2="667.17" y2="904.28" stroke="#0a0a0a" stroke-width="2.8" stroke-linecap="round"/>
<polygon points="682.5,823.5 702.4,835.0 702.4,858.0 682.5,869.5 662.6,858.0 662.6,835.0" fill="#fbbab6" stroke="#0a0a0a" stroke-width="3.2" stroke-linejoin="round"/>
<line x1="668.06" y1="837.14" x2="681.60" y2="829.32" stroke="#0a0a0a" stroke-width="2.8" stroke-linecap="round"/>
<line x1="697.81" y1="838.68" x2="697.81" y2="854.32" stroke="#0a0a0a" stroke-width="2.8" stroke-linecap="round"/>
<line x1="681.60" y1="863.68" x2="668.06" y2="855.86" stroke="#0a0a0a" stroke-width="2.8" stroke-linecap="round"/>
<line x1="739.30" y1="879.30" x2="739.30" y2="836.70" stroke="#0a0a0a" stroke-width="3.0" />
<line x1="739.30" y1="879.30" x2="776.19" y2="858.00" stroke="#0a0a0a" stroke-width="3.0" />
<line x1="739.30" y1="879.30" x2="776.19" y2="900.60" stroke="#0a0a0a" stroke-width="3.0" />
<line x1="739.30" y1="879.30" x2="739.30" y2="921.90" stroke="#0a0a0a" stroke-width="3.0" />
<line x1="739.30" y1="879.30" x2="702.41" y2="900.60" stroke="#0a0a0a" stroke-width="3.0" />
<line x1="739.30" y1="879.30" x2="702.41" y2="858.00" stroke="#0a0a0a" stroke-width="3.0" />
<circle cx="739.3" cy="836.7" r="7.2" fill="#e2423c" stroke="#0a0a0a" stroke-width="2.8"/>
<text transform="translate(739.10 839.90)" font-family='"Liberation Sans", Arial, Helvetica, sans-serif' font-size="8.5" font-weight="bold" text-anchor="middle" fill="#000" font-style="italic">N</text>
<circle cx="776.2" cy="858.0" r="7.2" fill="#e2423c" stroke="#0a0a0a" stroke-width="2.8"/>
<text transform="translate(775.99 861.20)" font-family='"Liberation Sans", Arial, Helvetica, sans-serif' font-size="8.5" font-weight="bold" text-anchor="middle" fill="#000" font-style="italic">N</text>
<circle cx="776.2" cy="900.6" r="7.2" fill="#e2423c" stroke="#0a0a0a" stroke-width="2.8"/>
<text transform="translate(775.99 903.80)" font-family='"Liberation Sans", Arial, Helvetica, sans-serif' font-size="8.5" font-weight="bold" text-anchor="middle" fill="#000" font-style="italic">N</text>
<circle cx="739.3" cy="921.9" r="7.2" fill="#e2423c" stroke="#0a0a0a" stroke-width="2.8"/>
<text transform="translate(739.10 925.10)" font-family='"Liberation Sans", Arial, Helvetica, sans-serif' font-size="8.5" font-weight="bold" text-anchor="middle" fill="#000" font-style="italic">N</text>
<circle cx="702.4" cy="900.6" r="7.2" fill="#e2423c" stroke="#0a0a0a" stroke-width="2.8"/>
<text transform="translate(702.21 903.80)" font-family='"Liberation Sans", Arial, Helvetica, sans-serif' font-size="8.5" font-weight="bold" text-anchor="middle" fill="#000" font-style="italic">N</text>
<circle cx="702.4" cy="858.0" r="7.2" fill="#e2423c" stroke="#0a0a0a" stroke-width="2.8"/>
<text transform="translate(702.21 861.20)" font-family='"Liberation Sans", Arial, Helvetica, sans-serif' font-size="8.5" font-weight="bold" text-anchor="middle" fill="#000" font-style="italic">N</text>
<circle cx="739.3" cy="879.3" r="14.6" fill="#a11416" stroke="#0a0a0a" stroke-width="3"/>
<path d="M730.1,882.8 Q729.3,872.3 737.8,870.1" fill="none" stroke="#fff" stroke-width="2.6" stroke-linecap="round"/>
<circle cx="730.7" cy="885.9" r="1.6" fill="#fff"/>
<text transform="translate(741.50 883.90)" font-family='"Liberation Sans", Arial, Helvetica, sans-serif' font-size="12.5" font-weight="bold" text-anchor="middle" fill="#000" font-style="italic">Ru</text>
<text transform="translate(745.30 862.60)" font-family='"Liberation Sans", Arial, Helvetica, sans-serif' font-size="14.5" font-weight="bold" text-anchor="start" fill="#000" textLength="16.20" lengthAdjust="spacingAndGlyphs">2+</text>
<clipPath id="ledc"><path d="M920.9,962 L920.9,912.5 C920.9,904.5 928,900.2 936,900.2 C944,900.2 951.1,904.5 951.1,912.5 L951.1,962 Q936,968.5 920.9,962 Z"/></clipPath>
<path d="M920.9,962 L920.9,912.5 C920.9,904.5 928,900.2 936,900.2 C944,900.2 951.1,904.5 951.1,912.5 L951.1,962 Q936,968.5 920.9,962 Z" fill="#628aa9"/>
<g clip-path="url(#ledc)"><ellipse cx="936.3" cy="957" rx="11.5" ry="27" fill="#8fdcf7" filter="url(#glow)"/><ellipse cx="936.3" cy="962" rx="8.5" ry="12" fill="#c2f0fc" filter="url(#glow)"/></g>
<path d="M920.9,962 L920.9,912.5 C920.9,904.5 928,900.2 936,900.2 C944,900.2 951.1,904.5 951.1,912.5 L951.1,962 Q936,968.5 920.9,962 Z" fill="none" stroke="#0a0a0a" stroke-width="2.3" stroke-linejoin="round"/>
<path d="M925.5,912.6 L925.5,942.6" stroke="#fff" stroke-width="2.5" stroke-linecap="round"/>
<path d="M927,908.4 Q930.5,905.3 935.4,904.6" stroke="#fff" stroke-width="2.6" fill="none" stroke-linecap="round"/>
<path d="M919.6,960 Q936,969.5 952.4,960 L952.4,965.5 Q946.2,968 945.6,974.5 L926.4,974.5 Q925.8,968 919.6,965.5 Z" fill="#315a82" stroke="#0a0a0a" stroke-width="2" stroke-linejoin="round"/>
<rect x="924.2" y="975.4" width="23.5" height="4.2" rx="1.8" fill="#6d7f8d" stroke="#0a0a0a" stroke-width="1.7"/>
<rect x="926.4" y="980" width="18.8" height="3.6" rx="1.6" fill="#4b5e6d" stroke="#0a0a0a" stroke-width="1.7"/>
<path d="M930.8,983.8 L940.8,983.8 Q939.5,988 935.8,988 Q932,988 930.8,983.8 Z" fill="#1f3a52" stroke="#0a0a0a" stroke-width="1.6" stroke-linejoin="round"/>
<text x="162.40" y="816.50" font-family='"Liberation Sans", Arial, Helvetica, sans-serif' font-size="34.5" fill="#000" stroke="#000" stroke-width="0.65" stroke-linejoin="round" textLength="52.40" lengthAdjust="spacingAndGlyphs">CO</text>
<text x="49.70" y="924.50" font-family='"Liberation Sans", Arial, Helvetica, sans-serif' font-size="34.5" fill="#000" stroke="#000" stroke-width="0.65" stroke-linejoin="round" textLength="52.40" lengthAdjust="spacingAndGlyphs">CO</text>
<text x="102.70" y="935.50" font-family='"Liberation Sans", Arial, Helvetica, sans-serif' font-size="20.4" fill="#000" stroke="#000" stroke-width="0.4" stroke-linejoin="round" textLength="11.80" lengthAdjust="spacingAndGlyphs">2</text>
<text x="50.20" y="1027.30" font-family='"Liberation Sans", Arial, Helvetica, sans-serif' font-size="34.3" fill="#000" stroke="#000" stroke-width="0.65" stroke-linejoin="round" textLength="24.60" lengthAdjust="spacingAndGlyphs">H</text>
<text x="75.10" y="1038.70" font-family='"Liberation Sans", Arial, Helvetica, sans-serif' font-size="20.8" fill="#000" stroke="#000" stroke-width="0.4" stroke-linejoin="round" textLength="12.20" lengthAdjust="spacingAndGlyphs">2</text>
<text x="86.20" y="1027.30" font-family='"Liberation Sans", Arial, Helvetica, sans-serif' font-size="34.3" fill="#000" stroke="#000" stroke-width="0.65" stroke-linejoin="round" textLength="28.20" lengthAdjust="spacingAndGlyphs">O</text>
<text x="189.70" y="1143.00" font-family='"Liberation Sans", Arial, Helvetica, sans-serif' font-size="34.3" fill="#000" stroke="#000" stroke-width="0.65" stroke-linejoin="round" textLength="25.00" lengthAdjust="spacingAndGlyphs">H</text>
<text x="215.10" y="1153.80" font-family='"Liberation Sans", Arial, Helvetica, sans-serif' font-size="20.4" fill="#000" stroke="#000" stroke-width="0.4" stroke-linejoin="round" textLength="12.20" lengthAdjust="spacingAndGlyphs">2</text>
<text x="258.00" y="1162.60" font-family='"Liberation Sans", Arial, Helvetica, sans-serif' font-size="34.5" fill="#000" stroke="#000" stroke-width="0.65" stroke-linejoin="round" textLength="305.80" lengthAdjust="spacingAndGlyphs">Zr-Co/Ni-PTTBPC</text>
<text x="608.20" y="824.30" font-family='"Liberation Sans", Arial, Helvetica, sans-serif' font-size="34.3" fill="#000" stroke="#000" stroke-width="0.65" stroke-linejoin="round" textLength="19.60" lengthAdjust="spacingAndGlyphs">e</text>
<text x="628.60" y="813.00" font-family='"Liberation Sans", Arial, Helvetica, sans-serif' font-size="20" fill="#000" stroke="#000" stroke-width="0.5" stroke-linejoin="round">-</text>
<text x="675.00" y="995.70" font-family='"Liberation Sans", Arial, Helvetica, sans-serif' font-size="34" fill="#000" stroke="#000" stroke-width="0.65" stroke-linejoin="round" textLength="127.60" lengthAdjust="spacingAndGlyphs">Ru(bpy)</text>
<text x="803.20" y="1005.80" font-family='"Liberation Sans", Arial, Helvetica, sans-serif' font-size="19" fill="#000" stroke="#000" stroke-width="0.4" stroke-linejoin="round" textLength="11.20" lengthAdjust="spacingAndGlyphs">3</text>
<text x="814.60" y="984.00" font-family='"Liberation Sans", Arial, Helvetica, sans-serif' font-size="18.9" fill="#000" stroke="#000" stroke-width="0.4" stroke-linejoin="round" textLength="23.20" lengthAdjust="spacingAndGlyphs">2+</text>
<text x="861.40" y="918.00" font-family='"Liberation Sans", Arial, Helvetica, sans-serif' font-size="33.5" fill="#000" stroke="#000" stroke-width="0.65" stroke-linejoin="round" font-style="italic" textLength="36.60" lengthAdjust="spacingAndGlyphs">hv</text>
<text x="903.20" y="1020.60" font-family='"Liberation Sans", Arial, Helvetica, sans-serif' font-size="32.5" fill="#000" stroke="#000" stroke-width="0.65" stroke-linejoin="round" textLength="68.00" lengthAdjust="spacingAndGlyphs">LED</text>
</svg></body></html>
